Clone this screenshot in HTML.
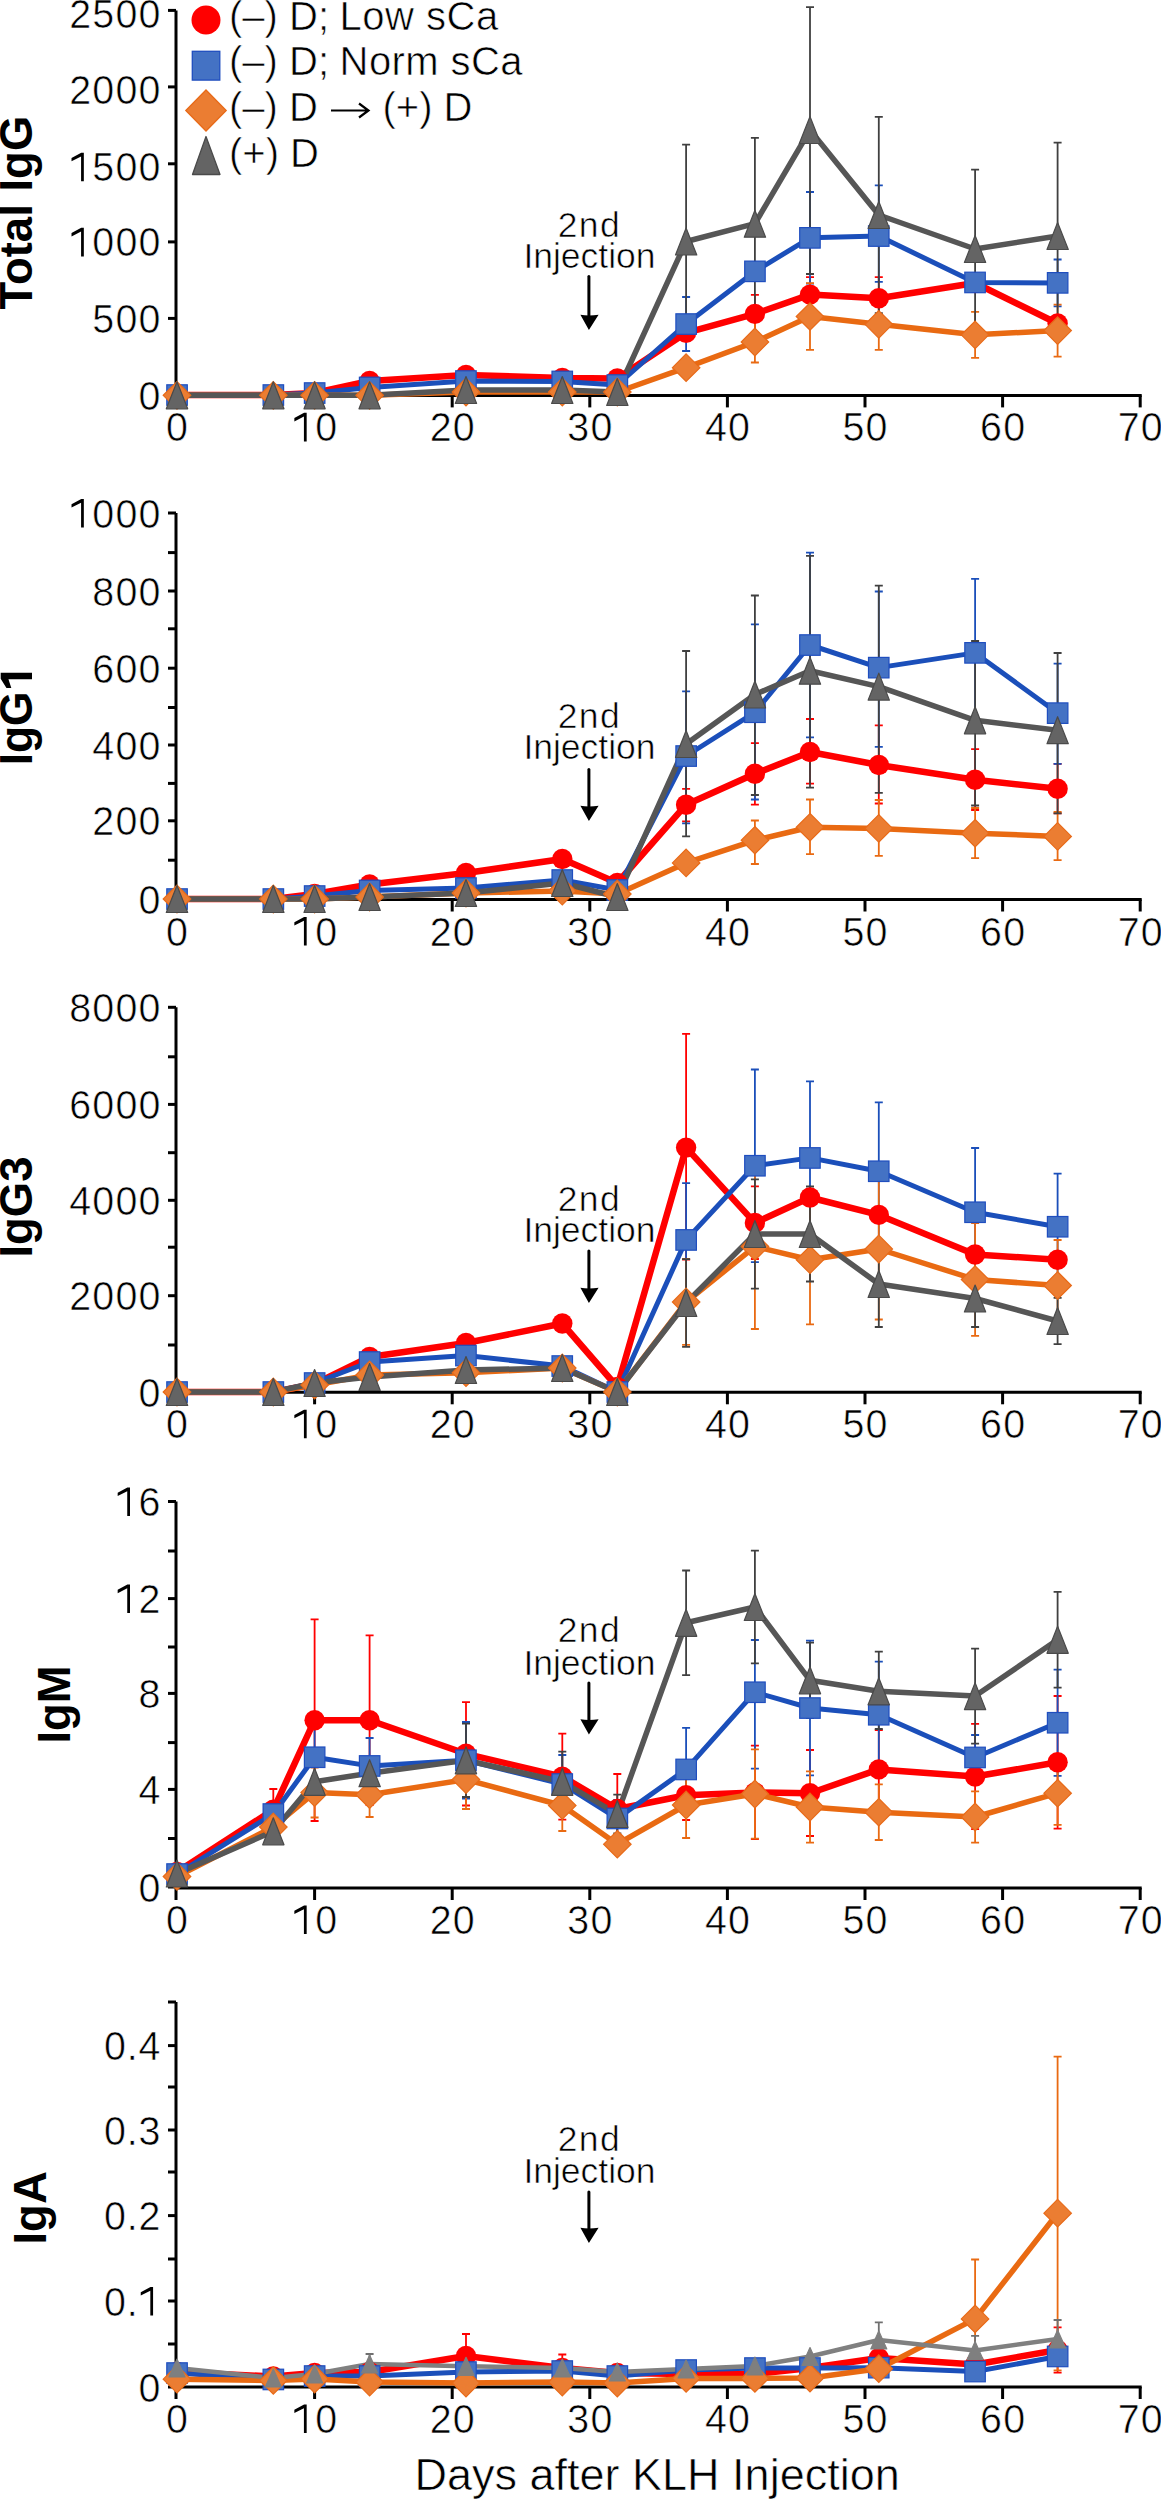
<!DOCTYPE html><html><head><meta charset="utf-8"><style>html,body{margin:0;padding:0;background:#fff;}svg{display:block;}</style></head><body>
<svg width="1161" height="2500" viewBox="0 0 1161 2500" font-family='"Liberation Sans", sans-serif'>
<rect width="1161" height="2500" fill="#fff"/>
<g stroke="#000" stroke-width="3" fill="none" stroke-linecap="butt">
<path d="M176 10.4V407.4"/>
<path d="M176 395.4H1141.7"/>
<path d="M168 395.4H176"/>
<path d="M168 318.4H176"/>
<path d="M168 241.9H176"/>
<path d="M168 163.8H176"/>
<path d="M168 86.9H176"/>
<path d="M168 10.4H176"/>
<path d="M314.6 395.4V407.4"/>
<path d="M452.2 395.4V407.4"/>
<path d="M589.8 395.4V407.4"/>
<path d="M727.4 395.4V407.4"/>
<path d="M865 395.4V407.4"/>
<path d="M1002.6 395.4V407.4"/>
<path d="M1140.2 395.4V407.4"/>
</g>
<g fill="#000">
<text transform="translate(149.46 409.9) scale(0.95 1)" font-size="41.5" text-anchor="middle" stroke="#fff" stroke-width="0.6">0</text>
<text transform="translate(103.30 332.9) scale(0.95 1)" font-size="41.5" text-anchor="middle" stroke="#fff" stroke-width="0.6">5</text>
<text transform="translate(126.38 332.9) scale(0.95 1)" font-size="41.5" text-anchor="middle" stroke="#fff" stroke-width="0.6">0</text>
<text transform="translate(149.46 332.9) scale(0.95 1)" font-size="41.5" text-anchor="middle" stroke="#fff" stroke-width="0.6">0</text>
<path d="M612 0L612 1225L140 985L140 1150L620 1409L748 1409L748 0Z" transform="translate(68.68 256.4) scale(0.02026 -0.02026)"/>
<text transform="translate(103.30 256.4) scale(0.95 1)" font-size="41.5" text-anchor="middle" stroke="#fff" stroke-width="0.6">0</text>
<text transform="translate(126.38 256.4) scale(0.95 1)" font-size="41.5" text-anchor="middle" stroke="#fff" stroke-width="0.6">0</text>
<text transform="translate(149.46 256.4) scale(0.95 1)" font-size="41.5" text-anchor="middle" stroke="#fff" stroke-width="0.6">0</text>
<path d="M612 0L612 1225L140 985L140 1150L620 1409L748 1409L748 0Z" transform="translate(68.68 181.3) scale(0.02026 -0.02026)"/>
<text transform="translate(103.30 181.3) scale(0.95 1)" font-size="41.5" text-anchor="middle" stroke="#fff" stroke-width="0.6">5</text>
<text transform="translate(126.38 181.3) scale(0.95 1)" font-size="41.5" text-anchor="middle" stroke="#fff" stroke-width="0.6">0</text>
<text transform="translate(149.46 181.3) scale(0.95 1)" font-size="41.5" text-anchor="middle" stroke="#fff" stroke-width="0.6">0</text>
<text transform="translate(80.22 104.4) scale(0.95 1)" font-size="41.5" text-anchor="middle" stroke="#fff" stroke-width="0.6">2</text>
<text transform="translate(103.30 104.4) scale(0.95 1)" font-size="41.5" text-anchor="middle" stroke="#fff" stroke-width="0.6">0</text>
<text transform="translate(126.38 104.4) scale(0.95 1)" font-size="41.5" text-anchor="middle" stroke="#fff" stroke-width="0.6">0</text>
<text transform="translate(149.46 104.4) scale(0.95 1)" font-size="41.5" text-anchor="middle" stroke="#fff" stroke-width="0.6">0</text>
<text transform="translate(80.22 27.9) scale(0.95 1)" font-size="41.5" text-anchor="middle" stroke="#fff" stroke-width="0.6">2</text>
<text transform="translate(103.30 27.9) scale(0.95 1)" font-size="41.5" text-anchor="middle" stroke="#fff" stroke-width="0.6">5</text>
<text transform="translate(126.38 27.9) scale(0.95 1)" font-size="41.5" text-anchor="middle" stroke="#fff" stroke-width="0.6">0</text>
<text transform="translate(149.46 27.9) scale(0.95 1)" font-size="41.5" text-anchor="middle" stroke="#fff" stroke-width="0.6">0</text>
<text transform="translate(177.00 441.4) scale(0.95 1)" font-size="41.5" text-anchor="middle" stroke="#fff" stroke-width="0.6">0</text>
<path d="M612 0L612 1225L140 985L140 1150L620 1409L748 1409L748 0Z" transform="translate(291.52 441.4) scale(0.02026 -0.02026)"/>
<text transform="translate(326.14 441.4) scale(0.95 1)" font-size="41.5" text-anchor="middle" stroke="#fff" stroke-width="0.6">0</text>
<text transform="translate(440.66 441.4) scale(0.95 1)" font-size="41.5" text-anchor="middle" stroke="#fff" stroke-width="0.6">2</text>
<text transform="translate(463.74 441.4) scale(0.95 1)" font-size="41.5" text-anchor="middle" stroke="#fff" stroke-width="0.6">0</text>
<text transform="translate(578.26 441.4) scale(0.95 1)" font-size="41.5" text-anchor="middle" stroke="#fff" stroke-width="0.6">3</text>
<text transform="translate(601.34 441.4) scale(0.95 1)" font-size="41.5" text-anchor="middle" stroke="#fff" stroke-width="0.6">0</text>
<text transform="translate(715.86 441.4) scale(0.95 1)" font-size="41.5" text-anchor="middle" stroke="#fff" stroke-width="0.6">4</text>
<text transform="translate(738.94 441.4) scale(0.95 1)" font-size="41.5" text-anchor="middle" stroke="#fff" stroke-width="0.6">0</text>
<text transform="translate(853.46 441.4) scale(0.95 1)" font-size="41.5" text-anchor="middle" stroke="#fff" stroke-width="0.6">5</text>
<text transform="translate(876.54 441.4) scale(0.95 1)" font-size="41.5" text-anchor="middle" stroke="#fff" stroke-width="0.6">0</text>
<text transform="translate(991.06 441.4) scale(0.95 1)" font-size="41.5" text-anchor="middle" stroke="#fff" stroke-width="0.6">6</text>
<text transform="translate(1014.14 441.4) scale(0.95 1)" font-size="41.5" text-anchor="middle" stroke="#fff" stroke-width="0.6">0</text>
<text transform="translate(1128.66 441.4) scale(0.95 1)" font-size="41.5" text-anchor="middle" stroke="#fff" stroke-width="0.6">7</text>
<text transform="translate(1151.74 441.4) scale(0.95 1)" font-size="41.5" text-anchor="middle" stroke="#fff" stroke-width="0.6">0</text>
<text transform="translate(32 212.6) rotate(-90) scale(1.0 1)" x="0" y="0" font-size="45.5" font-weight="bold" text-anchor="middle">Total IgG</text>
<text x="589.5" y="237.2" font-size="35.5" text-anchor="middle" font-weight="normal" stroke="#fff" stroke-width="0.6" letter-spacing="1.5">2nd</text>
<text x="589.5" y="267.9" font-size="35.5" text-anchor="middle" font-weight="normal" stroke="#fff" stroke-width="0.6">Injection</text>
</g>
<path d="M588.9 276.5V317" stroke="#000" stroke-width="3" stroke-linecap="round"/>
<path d="M580.4 314.8Q588.9 316 598.6 314.8L588.9 330Z" fill="#000"/>
<path d="M754.9 294.9V332.9M750.9 294.9h8M750.9 332.9h8" stroke="#FF0000" stroke-width="1.8" fill="none"/>
<path d="M810 277.1V312.1M806 277.1h8M806 312.1h8" stroke="#FF0000" stroke-width="1.8" fill="none"/>
<path d="M878.8 277.1V319.3M874.8 277.1h8M874.8 319.3h8" stroke="#FF0000" stroke-width="1.8" fill="none"/>
<path d="M686.1 297V351M682.1 297h8M682.1 351h8" stroke="#1B4FBA" stroke-width="1.8" fill="none"/>
<path d="M810 192V283.6M806 192h8M806 283.6h8" stroke="#1B4FBA" stroke-width="1.8" fill="none"/>
<path d="M878.8 185.4V281.8M874.8 185.4h8M874.8 281.8h8" stroke="#1B4FBA" stroke-width="1.8" fill="none"/>
<path d="M1057.6 259.5V306.3M1053.6 259.5h8M1053.6 306.3h8" stroke="#1B4FBA" stroke-width="1.8" fill="none"/>
<path d="M754.9 321.5V362.5M750.9 321.5h8M750.9 362.5h8" stroke="#E96A12" stroke-width="1.8" fill="none"/>
<path d="M810 283.2V349.8M806 283.2h8M806 349.8h8" stroke="#E96A12" stroke-width="1.8" fill="none"/>
<path d="M878.8 298.8V349.8M874.8 298.8h8M874.8 349.8h8" stroke="#E96A12" stroke-width="1.8" fill="none"/>
<path d="M975.1 311.8V357.8M971.1 311.8h8M971.1 357.8h8" stroke="#E96A12" stroke-width="1.8" fill="none"/>
<path d="M1057.6 304.6V356.6M1053.6 304.6h8M1053.6 356.6h8" stroke="#E96A12" stroke-width="1.8" fill="none"/>
<path d="M686.1 144.6V338.4M682.1 144.6h8M682.1 338.4h8" stroke="#404040" stroke-width="1.8" fill="none"/>
<path d="M754.9 137.9V309.5M750.9 137.9h8M750.9 309.5h8" stroke="#404040" stroke-width="1.8" fill="none"/>
<path d="M810 7.1V274M806 7.1h8M806 274h8" stroke="#404040" stroke-width="1.8" fill="none"/>
<path d="M878.8 116.9V313.1M874.8 116.9h8M874.8 313.1h8" stroke="#404040" stroke-width="1.8" fill="none"/>
<path d="M975.1 169.6V328.4M971.1 169.6h8M971.1 328.4h8" stroke="#404040" stroke-width="1.8" fill="none"/>
<path d="M1057.6 142.6V329.4M1053.6 142.6h8M1053.6 329.4h8" stroke="#404040" stroke-width="1.8" fill="none"/>
<polyline points="177,395 273.3,395 314.6,393 369.6,381 466,375 562.3,378 617.3,378.4 686.1,332.8 754.9,313.9 810,294.6 878.8,298.2 975.1,283 1057.6,323.5" fill="none" stroke="#FF0000" stroke-width="6.5" stroke-linejoin="round"/>
<polyline points="177,395 273.3,395 314.6,393 369.6,387.5 466,381 562.3,381.5 617.3,385 686.1,324 754.9,271.4 810,237.8 878.8,236.1 975.1,282.5 1057.6,282.9" fill="none" stroke="#1B4FBA" stroke-width="5" stroke-linejoin="round"/>
<polyline points="177,395.3 273.3,395.3 314.6,395.3 369.6,395.3 466,392 562.3,392 617.3,392 686.1,367.7 754.9,342 810,316.5 878.8,324.3 975.1,334.8 1057.6,330.6" fill="none" stroke="#E96A12" stroke-width="5.5" stroke-linejoin="round"/>
<polyline points="177,395.3 273.3,395.3 314.6,395.3 369.6,395.3 466,390 562.3,390 617.3,392 686.1,241.5 754.9,223.7 810,130 878.8,215 975.1,249 1057.6,236" fill="none" stroke="#565656" stroke-width="5.5" stroke-linejoin="round"/>
<circle cx="177" cy="395" r="10.2" fill="#FF0000"/>
<circle cx="273.3" cy="395" r="10.2" fill="#FF0000"/>
<circle cx="314.6" cy="393" r="10.2" fill="#FF0000"/>
<circle cx="369.6" cy="381" r="10.2" fill="#FF0000"/>
<circle cx="466" cy="375" r="10.2" fill="#FF0000"/>
<circle cx="562.3" cy="378" r="10.2" fill="#FF0000"/>
<circle cx="617.3" cy="378.4" r="10.2" fill="#FF0000"/>
<circle cx="686.1" cy="332.8" r="10.2" fill="#FF0000"/>
<circle cx="754.9" cy="313.9" r="10.2" fill="#FF0000"/>
<circle cx="810" cy="294.6" r="10.2" fill="#FF0000"/>
<circle cx="878.8" cy="298.2" r="10.2" fill="#FF0000"/>
<circle cx="975.1" cy="283" r="10.2" fill="#FF0000"/>
<circle cx="1057.6" cy="323.5" r="10.2" fill="#FF0000"/>
<rect x="166.8" y="384.8" width="20.5" height="20.5" fill="#4472C4" stroke="#1F4EBF" stroke-width="1.2"/>
<rect x="263.1" y="384.8" width="20.5" height="20.5" fill="#4472C4" stroke="#1F4EBF" stroke-width="1.2"/>
<rect x="304.4" y="382.8" width="20.5" height="20.5" fill="#4472C4" stroke="#1F4EBF" stroke-width="1.2"/>
<rect x="359.4" y="377.2" width="20.5" height="20.5" fill="#4472C4" stroke="#1F4EBF" stroke-width="1.2"/>
<rect x="455.7" y="370.8" width="20.5" height="20.5" fill="#4472C4" stroke="#1F4EBF" stroke-width="1.2"/>
<rect x="552" y="371.2" width="20.5" height="20.5" fill="#4472C4" stroke="#1F4EBF" stroke-width="1.2"/>
<rect x="607.1" y="374.8" width="20.5" height="20.5" fill="#4472C4" stroke="#1F4EBF" stroke-width="1.2"/>
<rect x="675.9" y="313.8" width="20.5" height="20.5" fill="#4472C4" stroke="#1F4EBF" stroke-width="1.2"/>
<rect x="744.7" y="261.1" width="20.5" height="20.5" fill="#4472C4" stroke="#1F4EBF" stroke-width="1.2"/>
<rect x="799.7" y="227.6" width="20.5" height="20.5" fill="#4472C4" stroke="#1F4EBF" stroke-width="1.2"/>
<rect x="868.5" y="225.8" width="20.5" height="20.5" fill="#4472C4" stroke="#1F4EBF" stroke-width="1.2"/>
<rect x="964.8" y="272.2" width="20.5" height="20.5" fill="#4472C4" stroke="#1F4EBF" stroke-width="1.2"/>
<rect x="1047.4" y="272.6" width="20.5" height="20.5" fill="#4472C4" stroke="#1F4EBF" stroke-width="1.2"/>
<path d="M177 381.6L190.8 395.3L177 409.1L163.2 395.3Z" fill="#EB7D32" stroke="#E86A18" stroke-width="1.2"/>
<path d="M273.3 381.6L287.1 395.3L273.3 409.1L259.6 395.3Z" fill="#EB7D32" stroke="#E86A18" stroke-width="1.2"/>
<path d="M314.6 381.6L328.4 395.3L314.6 409.1L300.9 395.3Z" fill="#EB7D32" stroke="#E86A18" stroke-width="1.2"/>
<path d="M369.6 381.6L383.4 395.3L369.6 409.1L355.9 395.3Z" fill="#EB7D32" stroke="#E86A18" stroke-width="1.2"/>
<path d="M466 378.2L479.7 392L466 405.8L452.2 392Z" fill="#EB7D32" stroke="#E86A18" stroke-width="1.2"/>
<path d="M562.3 378.2L576 392L562.3 405.8L548.5 392Z" fill="#EB7D32" stroke="#E86A18" stroke-width="1.2"/>
<path d="M617.3 378.2L631.1 392L617.3 405.8L603.6 392Z" fill="#EB7D32" stroke="#E86A18" stroke-width="1.2"/>
<path d="M686.1 353.9L699.9 367.7L686.1 381.4L672.4 367.7Z" fill="#EB7D32" stroke="#E86A18" stroke-width="1.2"/>
<path d="M754.9 328.2L768.7 342L754.9 355.8L741.2 342Z" fill="#EB7D32" stroke="#E86A18" stroke-width="1.2"/>
<path d="M810 302.8L823.7 316.5L810 330.2L796.2 316.5Z" fill="#EB7D32" stroke="#E86A18" stroke-width="1.2"/>
<path d="M878.8 310.6L892.5 324.3L878.8 338.1L865 324.3Z" fill="#EB7D32" stroke="#E86A18" stroke-width="1.2"/>
<path d="M975.1 321.1L988.8 334.8L975.1 348.6L961.3 334.8Z" fill="#EB7D32" stroke="#E86A18" stroke-width="1.2"/>
<path d="M1057.6 316.9L1071.4 330.6L1057.6 344.4L1043.9 330.6Z" fill="#EB7D32" stroke="#E86A18" stroke-width="1.2"/>
<path d="M177 381.8L187.7 408.8L166.3 408.8Z" fill="#646464" stroke="#4A4A4A" stroke-width="1.2" stroke-linejoin="round"/>
<path d="M273.3 381.8L284 408.8L262.7 408.8Z" fill="#646464" stroke="#4A4A4A" stroke-width="1.2" stroke-linejoin="round"/>
<path d="M314.6 381.8L325.2 408.8L304 408.8Z" fill="#646464" stroke="#4A4A4A" stroke-width="1.2" stroke-linejoin="round"/>
<path d="M369.6 381.8L380.3 408.8L359 408.8Z" fill="#646464" stroke="#4A4A4A" stroke-width="1.2" stroke-linejoin="round"/>
<path d="M466 376.5L476.6 403.5L455.3 403.5Z" fill="#646464" stroke="#4A4A4A" stroke-width="1.2" stroke-linejoin="round"/>
<path d="M562.3 376.5L572.9 403.5L551.6 403.5Z" fill="#646464" stroke="#4A4A4A" stroke-width="1.2" stroke-linejoin="round"/>
<path d="M617.3 378.5L628 405.5L606.7 405.5Z" fill="#646464" stroke="#4A4A4A" stroke-width="1.2" stroke-linejoin="round"/>
<path d="M686.1 228L696.8 255L675.5 255Z" fill="#646464" stroke="#4A4A4A" stroke-width="1.2" stroke-linejoin="round"/>
<path d="M754.9 210.2L765.6 237.2L744.3 237.2Z" fill="#646464" stroke="#4A4A4A" stroke-width="1.2" stroke-linejoin="round"/>
<path d="M810 116.5L820.6 143.5L799.3 143.5Z" fill="#646464" stroke="#4A4A4A" stroke-width="1.2" stroke-linejoin="round"/>
<path d="M878.8 201.5L889.4 228.5L868.1 228.5Z" fill="#646464" stroke="#4A4A4A" stroke-width="1.2" stroke-linejoin="round"/>
<path d="M975.1 235.5L985.7 262.5L964.4 262.5Z" fill="#646464" stroke="#4A4A4A" stroke-width="1.2" stroke-linejoin="round"/>
<path d="M1057.6 222.5L1068.3 249.5L1047 249.5Z" fill="#646464" stroke="#4A4A4A" stroke-width="1.2" stroke-linejoin="round"/>
<g stroke="#000" stroke-width="3" fill="none" stroke-linecap="butt">
<path d="M176 513V911.5"/>
<path d="M176 899.5H1141.7"/>
<path d="M168 899.5H176"/>
<path d="M168 820.8H176"/>
<path d="M168 745H176"/>
<path d="M168 668.2H176"/>
<path d="M168 591H176"/>
<path d="M168 513H176"/>
<path d="M168 860.2H176"/>
<path d="M168 783.4H176"/>
<path d="M168 707.5H176"/>
<path d="M168 628.8H176"/>
<path d="M168 552.6H176"/>
<path d="M314.6 899.5V911.5"/>
<path d="M452.2 899.5V911.5"/>
<path d="M589.8 899.5V911.5"/>
<path d="M727.4 899.5V911.5"/>
<path d="M865 899.5V911.5"/>
<path d="M1002.6 899.5V911.5"/>
<path d="M1140.2 899.5V911.5"/>
</g>
<g fill="#000">
<text transform="translate(149.46 914) scale(0.95 1)" font-size="41.5" text-anchor="middle" stroke="#fff" stroke-width="0.6">0</text>
<text transform="translate(103.30 835.3) scale(0.95 1)" font-size="41.5" text-anchor="middle" stroke="#fff" stroke-width="0.6">2</text>
<text transform="translate(126.38 835.3) scale(0.95 1)" font-size="41.5" text-anchor="middle" stroke="#fff" stroke-width="0.6">0</text>
<text transform="translate(149.46 835.3) scale(0.95 1)" font-size="41.5" text-anchor="middle" stroke="#fff" stroke-width="0.6">0</text>
<text transform="translate(103.30 759.5) scale(0.95 1)" font-size="41.5" text-anchor="middle" stroke="#fff" stroke-width="0.6">4</text>
<text transform="translate(126.38 759.5) scale(0.95 1)" font-size="41.5" text-anchor="middle" stroke="#fff" stroke-width="0.6">0</text>
<text transform="translate(149.46 759.5) scale(0.95 1)" font-size="41.5" text-anchor="middle" stroke="#fff" stroke-width="0.6">0</text>
<text transform="translate(103.30 682.7) scale(0.95 1)" font-size="41.5" text-anchor="middle" stroke="#fff" stroke-width="0.6">6</text>
<text transform="translate(126.38 682.7) scale(0.95 1)" font-size="41.5" text-anchor="middle" stroke="#fff" stroke-width="0.6">0</text>
<text transform="translate(149.46 682.7) scale(0.95 1)" font-size="41.5" text-anchor="middle" stroke="#fff" stroke-width="0.6">0</text>
<text transform="translate(103.30 605.5) scale(0.95 1)" font-size="41.5" text-anchor="middle" stroke="#fff" stroke-width="0.6">8</text>
<text transform="translate(126.38 605.5) scale(0.95 1)" font-size="41.5" text-anchor="middle" stroke="#fff" stroke-width="0.6">0</text>
<text transform="translate(149.46 605.5) scale(0.95 1)" font-size="41.5" text-anchor="middle" stroke="#fff" stroke-width="0.6">0</text>
<path d="M612 0L612 1225L140 985L140 1150L620 1409L748 1409L748 0Z" transform="translate(68.68 527.5) scale(0.02026 -0.02026)"/>
<text transform="translate(103.30 527.5) scale(0.95 1)" font-size="41.5" text-anchor="middle" stroke="#fff" stroke-width="0.6">0</text>
<text transform="translate(126.38 527.5) scale(0.95 1)" font-size="41.5" text-anchor="middle" stroke="#fff" stroke-width="0.6">0</text>
<text transform="translate(149.46 527.5) scale(0.95 1)" font-size="41.5" text-anchor="middle" stroke="#fff" stroke-width="0.6">0</text>
<text transform="translate(177.00 945.5) scale(0.95 1)" font-size="41.5" text-anchor="middle" stroke="#fff" stroke-width="0.6">0</text>
<path d="M612 0L612 1225L140 985L140 1150L620 1409L748 1409L748 0Z" transform="translate(291.52 945.5) scale(0.02026 -0.02026)"/>
<text transform="translate(326.14 945.5) scale(0.95 1)" font-size="41.5" text-anchor="middle" stroke="#fff" stroke-width="0.6">0</text>
<text transform="translate(440.66 945.5) scale(0.95 1)" font-size="41.5" text-anchor="middle" stroke="#fff" stroke-width="0.6">2</text>
<text transform="translate(463.74 945.5) scale(0.95 1)" font-size="41.5" text-anchor="middle" stroke="#fff" stroke-width="0.6">0</text>
<text transform="translate(578.26 945.5) scale(0.95 1)" font-size="41.5" text-anchor="middle" stroke="#fff" stroke-width="0.6">3</text>
<text transform="translate(601.34 945.5) scale(0.95 1)" font-size="41.5" text-anchor="middle" stroke="#fff" stroke-width="0.6">0</text>
<text transform="translate(715.86 945.5) scale(0.95 1)" font-size="41.5" text-anchor="middle" stroke="#fff" stroke-width="0.6">4</text>
<text transform="translate(738.94 945.5) scale(0.95 1)" font-size="41.5" text-anchor="middle" stroke="#fff" stroke-width="0.6">0</text>
<text transform="translate(853.46 945.5) scale(0.95 1)" font-size="41.5" text-anchor="middle" stroke="#fff" stroke-width="0.6">5</text>
<text transform="translate(876.54 945.5) scale(0.95 1)" font-size="41.5" text-anchor="middle" stroke="#fff" stroke-width="0.6">0</text>
<text transform="translate(991.06 945.5) scale(0.95 1)" font-size="41.5" text-anchor="middle" stroke="#fff" stroke-width="0.6">6</text>
<text transform="translate(1014.14 945.5) scale(0.95 1)" font-size="41.5" text-anchor="middle" stroke="#fff" stroke-width="0.6">0</text>
<text transform="translate(1128.66 945.5) scale(0.95 1)" font-size="41.5" text-anchor="middle" stroke="#fff" stroke-width="0.6">7</text>
<text transform="translate(1151.74 945.5) scale(0.95 1)" font-size="41.5" text-anchor="middle" stroke="#fff" stroke-width="0.6">0</text>
<g transform="translate(32 716) rotate(-90) scale(0.975 1)">
<text x="-50.6" y="0" font-size="45.5" font-weight="bold">IgG </text>
<path d="M560 0L560 1060L150 930L150 1150L580 1409L860 1409L860 0Z" transform="translate(25.26 0) scale(0.02222 -0.02222)"/>
</g>
<text x="589.5" y="727.9" font-size="35.5" text-anchor="middle" font-weight="normal" stroke="#fff" stroke-width="0.6" letter-spacing="1.5">2nd</text>
<text x="589.5" y="758.9" font-size="35.5" text-anchor="middle" font-weight="normal" stroke="#fff" stroke-width="0.6">Injection</text>
</g>
<path d="M588.9 769.5V808" stroke="#000" stroke-width="3" stroke-linecap="round"/>
<path d="M580.4 805.8Q588.9 807 598.6 805.8L588.9 821Z" fill="#000"/>
<path d="M686.1 788.8V821.3M682.1 788.8h8M682.1 821.3h8" stroke="#FF0000" stroke-width="1.8" fill="none"/>
<path d="M754.9 743.2V804.7M750.9 743.2h8M750.9 804.7h8" stroke="#FF0000" stroke-width="1.8" fill="none"/>
<path d="M810 719V783.7M806 719h8M806 783.7h8" stroke="#FF0000" stroke-width="1.8" fill="none"/>
<path d="M878.8 725.4V803.5M874.8 725.4h8M874.8 803.5h8" stroke="#FF0000" stroke-width="1.8" fill="none"/>
<path d="M975.1 749.2V810M971.1 749.2h8M971.1 810h8" stroke="#FF0000" stroke-width="1.8" fill="none"/>
<path d="M1057.6 763.8V813.4M1053.6 763.8h8M1053.6 813.4h8" stroke="#FF0000" stroke-width="1.8" fill="none"/>
<path d="M686.1 691.3V823.3M682.1 691.3h8M682.1 823.3h8" stroke="#1B4FBA" stroke-width="1.8" fill="none"/>
<path d="M754.9 624.4V799.5M750.9 624.4h8M750.9 799.5h8" stroke="#1B4FBA" stroke-width="1.8" fill="none"/>
<path d="M810 552.7V737.3M806 552.7h8M806 737.3h8" stroke="#1B4FBA" stroke-width="1.8" fill="none"/>
<path d="M878.8 591.5V746.8M874.8 591.5h8M874.8 746.8h8" stroke="#1B4FBA" stroke-width="1.8" fill="none"/>
<path d="M975.1 578.8V727M971.1 578.8h8M971.1 727h8" stroke="#1B4FBA" stroke-width="1.8" fill="none"/>
<path d="M1057.6 663.6V763.8M1053.6 663.6h8M1053.6 763.8h8" stroke="#1B4FBA" stroke-width="1.8" fill="none"/>
<path d="M754.9 820.5V864M750.9 820.5h8M750.9 864h8" stroke="#E96A12" stroke-width="1.8" fill="none"/>
<path d="M810 799.5V854.2M806 799.5h8M806 854.2h8" stroke="#E96A12" stroke-width="1.8" fill="none"/>
<path d="M878.8 800V855.8M874.8 800h8M874.8 855.8h8" stroke="#E96A12" stroke-width="1.8" fill="none"/>
<path d="M975.1 808V858.1M971.1 808h8M971.1 858.1h8" stroke="#E96A12" stroke-width="1.8" fill="none"/>
<path d="M1057.6 812V860.1M1053.6 812h8M1053.6 860.1h8" stroke="#E96A12" stroke-width="1.8" fill="none"/>
<path d="M686.1 651V836.4M682.1 651h8M682.1 836.4h8" stroke="#404040" stroke-width="1.8" fill="none"/>
<path d="M754.9 595.5V795M750.9 595.5h8M750.9 795h8" stroke="#404040" stroke-width="1.8" fill="none"/>
<path d="M810 555.8V787.6M806 555.8h8M806 787.6h8" stroke="#404040" stroke-width="1.8" fill="none"/>
<path d="M878.8 585.6V792.8M874.8 585.6h8M874.8 792.8h8" stroke="#404040" stroke-width="1.8" fill="none"/>
<path d="M975.1 641V805.5M971.1 641h8M971.1 805.5h8" stroke="#404040" stroke-width="1.8" fill="none"/>
<path d="M1057.6 653V813.4M1053.6 653h8M1053.6 813.4h8" stroke="#404040" stroke-width="1.8" fill="none"/>
<polyline points="177,899 273.3,899 314.6,894 369.6,884.5 466,873 562.3,859 617.3,883 686.1,804.7 754.9,773.8 810,752 878.8,765 975.1,779.7 1057.6,788.8" fill="none" stroke="#FF0000" stroke-width="6.5" stroke-linejoin="round"/>
<polyline points="177,899 273.3,899 314.6,896 369.6,890.5 466,888 562.3,880 617.3,890 686.1,756 754.9,712.3 810,645 878.8,667.6 975.1,652.9 1057.6,713.1" fill="none" stroke="#1B4FBA" stroke-width="5" stroke-linejoin="round"/>
<polyline points="177,899 273.3,899 314.6,899 369.6,897 466,893 562.3,891 617.3,894 686.1,862.9 754.9,840.3 810,827.2 878.8,828.4 975.1,833.2 1057.6,836.4" fill="none" stroke="#E96A12" stroke-width="5.5" stroke-linejoin="round"/>
<polyline points="177,899 273.3,899 314.6,899 369.6,897 466,893 562.3,883 617.3,897 686.1,744 754.9,694.5 810,670.7 878.8,686.6 975.1,720.3 1057.6,730.2" fill="none" stroke="#565656" stroke-width="5.5" stroke-linejoin="round"/>
<circle cx="177" cy="899" r="10.2" fill="#FF0000"/>
<circle cx="273.3" cy="899" r="10.2" fill="#FF0000"/>
<circle cx="314.6" cy="894" r="10.2" fill="#FF0000"/>
<circle cx="369.6" cy="884.5" r="10.2" fill="#FF0000"/>
<circle cx="466" cy="873" r="10.2" fill="#FF0000"/>
<circle cx="562.3" cy="859" r="10.2" fill="#FF0000"/>
<circle cx="617.3" cy="883" r="10.2" fill="#FF0000"/>
<circle cx="686.1" cy="804.7" r="10.2" fill="#FF0000"/>
<circle cx="754.9" cy="773.8" r="10.2" fill="#FF0000"/>
<circle cx="810" cy="752" r="10.2" fill="#FF0000"/>
<circle cx="878.8" cy="765" r="10.2" fill="#FF0000"/>
<circle cx="975.1" cy="779.7" r="10.2" fill="#FF0000"/>
<circle cx="1057.6" cy="788.8" r="10.2" fill="#FF0000"/>
<rect x="166.8" y="888.8" width="20.5" height="20.5" fill="#4472C4" stroke="#1F4EBF" stroke-width="1.2"/>
<rect x="263.1" y="888.8" width="20.5" height="20.5" fill="#4472C4" stroke="#1F4EBF" stroke-width="1.2"/>
<rect x="304.4" y="885.8" width="20.5" height="20.5" fill="#4472C4" stroke="#1F4EBF" stroke-width="1.2"/>
<rect x="359.4" y="880.2" width="20.5" height="20.5" fill="#4472C4" stroke="#1F4EBF" stroke-width="1.2"/>
<rect x="455.7" y="877.8" width="20.5" height="20.5" fill="#4472C4" stroke="#1F4EBF" stroke-width="1.2"/>
<rect x="552" y="869.8" width="20.5" height="20.5" fill="#4472C4" stroke="#1F4EBF" stroke-width="1.2"/>
<rect x="607.1" y="879.8" width="20.5" height="20.5" fill="#4472C4" stroke="#1F4EBF" stroke-width="1.2"/>
<rect x="675.9" y="745.8" width="20.5" height="20.5" fill="#4472C4" stroke="#1F4EBF" stroke-width="1.2"/>
<rect x="744.7" y="702" width="20.5" height="20.5" fill="#4472C4" stroke="#1F4EBF" stroke-width="1.2"/>
<rect x="799.7" y="634.8" width="20.5" height="20.5" fill="#4472C4" stroke="#1F4EBF" stroke-width="1.2"/>
<rect x="868.5" y="657.4" width="20.5" height="20.5" fill="#4472C4" stroke="#1F4EBF" stroke-width="1.2"/>
<rect x="964.8" y="642.6" width="20.5" height="20.5" fill="#4472C4" stroke="#1F4EBF" stroke-width="1.2"/>
<rect x="1047.4" y="702.9" width="20.5" height="20.5" fill="#4472C4" stroke="#1F4EBF" stroke-width="1.2"/>
<path d="M177 885.2L190.8 899L177 912.8L163.2 899Z" fill="#EB7D32" stroke="#E86A18" stroke-width="1.2"/>
<path d="M273.3 885.2L287.1 899L273.3 912.8L259.6 899Z" fill="#EB7D32" stroke="#E86A18" stroke-width="1.2"/>
<path d="M314.6 885.2L328.4 899L314.6 912.8L300.9 899Z" fill="#EB7D32" stroke="#E86A18" stroke-width="1.2"/>
<path d="M369.6 883.2L383.4 897L369.6 910.8L355.9 897Z" fill="#EB7D32" stroke="#E86A18" stroke-width="1.2"/>
<path d="M466 879.2L479.7 893L466 906.8L452.2 893Z" fill="#EB7D32" stroke="#E86A18" stroke-width="1.2"/>
<path d="M562.3 877.2L576 891L562.3 904.8L548.5 891Z" fill="#EB7D32" stroke="#E86A18" stroke-width="1.2"/>
<path d="M617.3 880.2L631.1 894L617.3 907.8L603.6 894Z" fill="#EB7D32" stroke="#E86A18" stroke-width="1.2"/>
<path d="M686.1 849.1L699.9 862.9L686.1 876.6L672.4 862.9Z" fill="#EB7D32" stroke="#E86A18" stroke-width="1.2"/>
<path d="M754.9 826.5L768.7 840.3L754.9 854L741.2 840.3Z" fill="#EB7D32" stroke="#E86A18" stroke-width="1.2"/>
<path d="M810 813.5L823.7 827.2L810 841L796.2 827.2Z" fill="#EB7D32" stroke="#E86A18" stroke-width="1.2"/>
<path d="M878.8 814.6L892.5 828.4L878.8 842.1L865 828.4Z" fill="#EB7D32" stroke="#E86A18" stroke-width="1.2"/>
<path d="M975.1 819.5L988.8 833.2L975.1 847L961.3 833.2Z" fill="#EB7D32" stroke="#E86A18" stroke-width="1.2"/>
<path d="M1057.6 822.6L1071.4 836.4L1057.6 850.1L1043.9 836.4Z" fill="#EB7D32" stroke="#E86A18" stroke-width="1.2"/>
<path d="M177 885.5L187.7 912.5L166.3 912.5Z" fill="#646464" stroke="#4A4A4A" stroke-width="1.2" stroke-linejoin="round"/>
<path d="M273.3 885.5L284 912.5L262.7 912.5Z" fill="#646464" stroke="#4A4A4A" stroke-width="1.2" stroke-linejoin="round"/>
<path d="M314.6 885.5L325.2 912.5L304 912.5Z" fill="#646464" stroke="#4A4A4A" stroke-width="1.2" stroke-linejoin="round"/>
<path d="M369.6 883.5L380.3 910.5L359 910.5Z" fill="#646464" stroke="#4A4A4A" stroke-width="1.2" stroke-linejoin="round"/>
<path d="M466 879.5L476.6 906.5L455.3 906.5Z" fill="#646464" stroke="#4A4A4A" stroke-width="1.2" stroke-linejoin="round"/>
<path d="M562.3 869.5L572.9 896.5L551.6 896.5Z" fill="#646464" stroke="#4A4A4A" stroke-width="1.2" stroke-linejoin="round"/>
<path d="M617.3 883.5L628 910.5L606.7 910.5Z" fill="#646464" stroke="#4A4A4A" stroke-width="1.2" stroke-linejoin="round"/>
<path d="M686.1 730.5L696.8 757.5L675.5 757.5Z" fill="#646464" stroke="#4A4A4A" stroke-width="1.2" stroke-linejoin="round"/>
<path d="M754.9 681L765.6 708L744.3 708Z" fill="#646464" stroke="#4A4A4A" stroke-width="1.2" stroke-linejoin="round"/>
<path d="M810 657.2L820.6 684.2L799.3 684.2Z" fill="#646464" stroke="#4A4A4A" stroke-width="1.2" stroke-linejoin="round"/>
<path d="M878.8 673.1L889.4 700.1L868.1 700.1Z" fill="#646464" stroke="#4A4A4A" stroke-width="1.2" stroke-linejoin="round"/>
<path d="M975.1 706.8L985.7 733.8L964.4 733.8Z" fill="#646464" stroke="#4A4A4A" stroke-width="1.2" stroke-linejoin="round"/>
<path d="M1057.6 716.7L1068.3 743.7L1047 743.7Z" fill="#646464" stroke="#4A4A4A" stroke-width="1.2" stroke-linejoin="round"/>
<g stroke="#000" stroke-width="3" fill="none" stroke-linecap="butt">
<path d="M176 1007.3V1404.3"/>
<path d="M176 1392.3H1141.7"/>
<path d="M168 1392.3H176"/>
<path d="M168 1295.7H176"/>
<path d="M168 1200.3H176"/>
<path d="M168 1104.4H176"/>
<path d="M168 1007.3H176"/>
<path d="M168 1345H176"/>
<path d="M168 1247.2H176"/>
<path d="M168 1152.7H176"/>
<path d="M168 1056.8H176"/>
<path d="M314.6 1392.3V1404.3"/>
<path d="M452.2 1392.3V1404.3"/>
<path d="M589.8 1392.3V1404.3"/>
<path d="M727.4 1392.3V1404.3"/>
<path d="M865 1392.3V1404.3"/>
<path d="M1002.6 1392.3V1404.3"/>
<path d="M1140.2 1392.3V1404.3"/>
</g>
<g fill="#000">
<text transform="translate(149.46 1406.8) scale(0.95 1)" font-size="41.5" text-anchor="middle" stroke="#fff" stroke-width="0.6">0</text>
<text transform="translate(80.22 1310.2) scale(0.95 1)" font-size="41.5" text-anchor="middle" stroke="#fff" stroke-width="0.6">2</text>
<text transform="translate(103.30 1310.2) scale(0.95 1)" font-size="41.5" text-anchor="middle" stroke="#fff" stroke-width="0.6">0</text>
<text transform="translate(126.38 1310.2) scale(0.95 1)" font-size="41.5" text-anchor="middle" stroke="#fff" stroke-width="0.6">0</text>
<text transform="translate(149.46 1310.2) scale(0.95 1)" font-size="41.5" text-anchor="middle" stroke="#fff" stroke-width="0.6">0</text>
<text transform="translate(80.22 1214.8) scale(0.95 1)" font-size="41.5" text-anchor="middle" stroke="#fff" stroke-width="0.6">4</text>
<text transform="translate(103.30 1214.8) scale(0.95 1)" font-size="41.5" text-anchor="middle" stroke="#fff" stroke-width="0.6">0</text>
<text transform="translate(126.38 1214.8) scale(0.95 1)" font-size="41.5" text-anchor="middle" stroke="#fff" stroke-width="0.6">0</text>
<text transform="translate(149.46 1214.8) scale(0.95 1)" font-size="41.5" text-anchor="middle" stroke="#fff" stroke-width="0.6">0</text>
<text transform="translate(80.22 1118.9) scale(0.95 1)" font-size="41.5" text-anchor="middle" stroke="#fff" stroke-width="0.6">6</text>
<text transform="translate(103.30 1118.9) scale(0.95 1)" font-size="41.5" text-anchor="middle" stroke="#fff" stroke-width="0.6">0</text>
<text transform="translate(126.38 1118.9) scale(0.95 1)" font-size="41.5" text-anchor="middle" stroke="#fff" stroke-width="0.6">0</text>
<text transform="translate(149.46 1118.9) scale(0.95 1)" font-size="41.5" text-anchor="middle" stroke="#fff" stroke-width="0.6">0</text>
<text transform="translate(80.22 1021.8) scale(0.95 1)" font-size="41.5" text-anchor="middle" stroke="#fff" stroke-width="0.6">8</text>
<text transform="translate(103.30 1021.8) scale(0.95 1)" font-size="41.5" text-anchor="middle" stroke="#fff" stroke-width="0.6">0</text>
<text transform="translate(126.38 1021.8) scale(0.95 1)" font-size="41.5" text-anchor="middle" stroke="#fff" stroke-width="0.6">0</text>
<text transform="translate(149.46 1021.8) scale(0.95 1)" font-size="41.5" text-anchor="middle" stroke="#fff" stroke-width="0.6">0</text>
<text transform="translate(177.00 1438.3) scale(0.95 1)" font-size="41.5" text-anchor="middle" stroke="#fff" stroke-width="0.6">0</text>
<path d="M612 0L612 1225L140 985L140 1150L620 1409L748 1409L748 0Z" transform="translate(291.52 1438.3) scale(0.02026 -0.02026)"/>
<text transform="translate(326.14 1438.3) scale(0.95 1)" font-size="41.5" text-anchor="middle" stroke="#fff" stroke-width="0.6">0</text>
<text transform="translate(440.66 1438.3) scale(0.95 1)" font-size="41.5" text-anchor="middle" stroke="#fff" stroke-width="0.6">2</text>
<text transform="translate(463.74 1438.3) scale(0.95 1)" font-size="41.5" text-anchor="middle" stroke="#fff" stroke-width="0.6">0</text>
<text transform="translate(578.26 1438.3) scale(0.95 1)" font-size="41.5" text-anchor="middle" stroke="#fff" stroke-width="0.6">3</text>
<text transform="translate(601.34 1438.3) scale(0.95 1)" font-size="41.5" text-anchor="middle" stroke="#fff" stroke-width="0.6">0</text>
<text transform="translate(715.86 1438.3) scale(0.95 1)" font-size="41.5" text-anchor="middle" stroke="#fff" stroke-width="0.6">4</text>
<text transform="translate(738.94 1438.3) scale(0.95 1)" font-size="41.5" text-anchor="middle" stroke="#fff" stroke-width="0.6">0</text>
<text transform="translate(853.46 1438.3) scale(0.95 1)" font-size="41.5" text-anchor="middle" stroke="#fff" stroke-width="0.6">5</text>
<text transform="translate(876.54 1438.3) scale(0.95 1)" font-size="41.5" text-anchor="middle" stroke="#fff" stroke-width="0.6">0</text>
<text transform="translate(991.06 1438.3) scale(0.95 1)" font-size="41.5" text-anchor="middle" stroke="#fff" stroke-width="0.6">6</text>
<text transform="translate(1014.14 1438.3) scale(0.95 1)" font-size="41.5" text-anchor="middle" stroke="#fff" stroke-width="0.6">0</text>
<text transform="translate(1128.66 1438.3) scale(0.95 1)" font-size="41.5" text-anchor="middle" stroke="#fff" stroke-width="0.6">7</text>
<text transform="translate(1151.74 1438.3) scale(0.95 1)" font-size="41.5" text-anchor="middle" stroke="#fff" stroke-width="0.6">0</text>
<text transform="translate(32 1207) rotate(-90) scale(1.0 1)" x="0" y="0" font-size="45.5" font-weight="bold" text-anchor="middle">IgG3</text>
<text x="589.5" y="1210.7" font-size="35.5" text-anchor="middle" font-weight="normal" stroke="#fff" stroke-width="0.6" letter-spacing="1.5">2nd</text>
<text x="589.5" y="1241.7" font-size="35.5" text-anchor="middle" font-weight="normal" stroke="#fff" stroke-width="0.6">Injection</text>
</g>
<path d="M588.9 1251V1290" stroke="#000" stroke-width="3" stroke-linecap="round"/>
<path d="M580.4 1287.8Q588.9 1289 598.6 1287.8L588.9 1303Z" fill="#000"/>
<path d="M686.1 1033.9V1259.7M682.1 1033.9h8M682.1 1259.7h8" stroke="#FF0000" stroke-width="1.8" fill="none"/>
<path d="M754.9 1186.4V1259M750.9 1186.4h8M750.9 1259h8" stroke="#FF0000" stroke-width="1.8" fill="none"/>
<path d="M686.1 1183.2V1296.6M682.1 1183.2h8M682.1 1296.6h8" stroke="#1B4FBA" stroke-width="1.8" fill="none"/>
<path d="M754.9 1069.5V1262.1M750.9 1069.5h8M750.9 1262.1h8" stroke="#1B4FBA" stroke-width="1.8" fill="none"/>
<path d="M810 1081.4V1234.4M806 1081.4h8M806 1234.4h8" stroke="#1B4FBA" stroke-width="1.8" fill="none"/>
<path d="M878.8 1102.4V1240.2M874.8 1102.4h8M874.8 1240.2h8" stroke="#1B4FBA" stroke-width="1.8" fill="none"/>
<path d="M975.1 1148V1276.4M971.1 1148h8M971.1 1276.4h8" stroke="#1B4FBA" stroke-width="1.8" fill="none"/>
<path d="M1057.6 1173.7V1279.9M1053.6 1173.7h8M1053.6 1279.9h8" stroke="#1B4FBA" stroke-width="1.8" fill="none"/>
<path d="M686.1 1259V1344.9M682.1 1259h8M682.1 1344.9h8" stroke="#E96A12" stroke-width="1.8" fill="none"/>
<path d="M754.9 1164.2V1329M750.9 1164.2h8M750.9 1329h8" stroke="#E96A12" stroke-width="1.8" fill="none"/>
<path d="M810 1195.1V1324.3M806 1195.1h8M806 1324.3h8" stroke="#E96A12" stroke-width="1.8" fill="none"/>
<path d="M878.8 1178.5V1319.5M874.8 1178.5h8M874.8 1319.5h8" stroke="#E96A12" stroke-width="1.8" fill="none"/>
<path d="M975.1 1223.2V1335.8M971.1 1223.2h8M971.1 1335.8h8" stroke="#E96A12" stroke-width="1.8" fill="none"/>
<path d="M1057.6 1240V1331M1053.6 1240h8M1053.6 1331h8" stroke="#E96A12" stroke-width="1.8" fill="none"/>
<path d="M686.1 1259.1V1346.9M682.1 1259.1h8M682.1 1346.9h8" stroke="#404040" stroke-width="1.8" fill="none"/>
<path d="M754.9 1179.4V1288.6M750.9 1179.4h8M750.9 1288.6h8" stroke="#404040" stroke-width="1.8" fill="none"/>
<path d="M810 1186.5V1281.5M806 1186.5h8M806 1281.5h8" stroke="#404040" stroke-width="1.8" fill="none"/>
<path d="M878.8 1241V1327M874.8 1241h8M874.8 1327h8" stroke="#404040" stroke-width="1.8" fill="none"/>
<path d="M975.1 1270V1327M971.1 1270h8M971.1 1327h8" stroke="#404040" stroke-width="1.8" fill="none"/>
<path d="M1057.6 1297.9V1344.1M1053.6 1297.9h8M1053.6 1344.1h8" stroke="#404040" stroke-width="1.8" fill="none"/>
<polyline points="177,1392 273.3,1392 314.6,1384 369.6,1357 466,1343 562.3,1323.5 617.3,1387 686.1,1147.6 754.9,1222.9 810,1197.5 878.8,1214.9 975.1,1254.5 1057.6,1259.7" fill="none" stroke="#FF0000" stroke-width="6.5" stroke-linejoin="round"/>
<polyline points="177,1392 273.3,1392 314.6,1383 369.6,1362 466,1355.6 562.3,1366 617.3,1392 686.1,1239.9 754.9,1165.8 810,1157.9 878.8,1171.3 975.1,1212.2 1057.6,1226.8" fill="none" stroke="#1B4FBA" stroke-width="5" stroke-linejoin="round"/>
<polyline points="177,1392 273.3,1392 314.6,1385 369.6,1375 466,1372.7 562.3,1368 617.3,1392 686.1,1302 754.9,1246.6 810,1259.7 878.8,1249 975.1,1279.5 1057.6,1285.5" fill="none" stroke="#E96A12" stroke-width="5.5" stroke-linejoin="round"/>
<polyline points="177,1392 273.3,1392 314.6,1383 369.6,1377 466,1370 562.3,1368 617.3,1392 686.1,1303 754.9,1234 810,1234 878.8,1284 975.1,1298.5 1057.6,1321" fill="none" stroke="#565656" stroke-width="5.5" stroke-linejoin="round"/>
<circle cx="177" cy="1392" r="10.2" fill="#FF0000"/>
<circle cx="273.3" cy="1392" r="10.2" fill="#FF0000"/>
<circle cx="314.6" cy="1384" r="10.2" fill="#FF0000"/>
<circle cx="369.6" cy="1357" r="10.2" fill="#FF0000"/>
<circle cx="466" cy="1343" r="10.2" fill="#FF0000"/>
<circle cx="562.3" cy="1323.5" r="10.2" fill="#FF0000"/>
<circle cx="617.3" cy="1387" r="10.2" fill="#FF0000"/>
<circle cx="686.1" cy="1147.6" r="10.2" fill="#FF0000"/>
<circle cx="754.9" cy="1222.9" r="10.2" fill="#FF0000"/>
<circle cx="810" cy="1197.5" r="10.2" fill="#FF0000"/>
<circle cx="878.8" cy="1214.9" r="10.2" fill="#FF0000"/>
<circle cx="975.1" cy="1254.5" r="10.2" fill="#FF0000"/>
<circle cx="1057.6" cy="1259.7" r="10.2" fill="#FF0000"/>
<rect x="166.8" y="1381.8" width="20.5" height="20.5" fill="#4472C4" stroke="#1F4EBF" stroke-width="1.2"/>
<rect x="263.1" y="1381.8" width="20.5" height="20.5" fill="#4472C4" stroke="#1F4EBF" stroke-width="1.2"/>
<rect x="304.4" y="1372.8" width="20.5" height="20.5" fill="#4472C4" stroke="#1F4EBF" stroke-width="1.2"/>
<rect x="359.4" y="1351.8" width="20.5" height="20.5" fill="#4472C4" stroke="#1F4EBF" stroke-width="1.2"/>
<rect x="455.7" y="1345.3" width="20.5" height="20.5" fill="#4472C4" stroke="#1F4EBF" stroke-width="1.2"/>
<rect x="552" y="1355.8" width="20.5" height="20.5" fill="#4472C4" stroke="#1F4EBF" stroke-width="1.2"/>
<rect x="607.1" y="1381.8" width="20.5" height="20.5" fill="#4472C4" stroke="#1F4EBF" stroke-width="1.2"/>
<rect x="675.9" y="1229.7" width="20.5" height="20.5" fill="#4472C4" stroke="#1F4EBF" stroke-width="1.2"/>
<rect x="744.7" y="1155.5" width="20.5" height="20.5" fill="#4472C4" stroke="#1F4EBF" stroke-width="1.2"/>
<rect x="799.7" y="1147.7" width="20.5" height="20.5" fill="#4472C4" stroke="#1F4EBF" stroke-width="1.2"/>
<rect x="868.5" y="1161" width="20.5" height="20.5" fill="#4472C4" stroke="#1F4EBF" stroke-width="1.2"/>
<rect x="964.8" y="1202" width="20.5" height="20.5" fill="#4472C4" stroke="#1F4EBF" stroke-width="1.2"/>
<rect x="1047.4" y="1216.5" width="20.5" height="20.5" fill="#4472C4" stroke="#1F4EBF" stroke-width="1.2"/>
<path d="M177 1378.2L190.8 1392L177 1405.8L163.2 1392Z" fill="#EB7D32" stroke="#E86A18" stroke-width="1.2"/>
<path d="M273.3 1378.2L287.1 1392L273.3 1405.8L259.6 1392Z" fill="#EB7D32" stroke="#E86A18" stroke-width="1.2"/>
<path d="M314.6 1371.2L328.4 1385L314.6 1398.8L300.9 1385Z" fill="#EB7D32" stroke="#E86A18" stroke-width="1.2"/>
<path d="M369.6 1361.2L383.4 1375L369.6 1388.8L355.9 1375Z" fill="#EB7D32" stroke="#E86A18" stroke-width="1.2"/>
<path d="M466 1359L479.7 1372.7L466 1386.5L452.2 1372.7Z" fill="#EB7D32" stroke="#E86A18" stroke-width="1.2"/>
<path d="M562.3 1354.2L576 1368L562.3 1381.8L548.5 1368Z" fill="#EB7D32" stroke="#E86A18" stroke-width="1.2"/>
<path d="M617.3 1378.2L631.1 1392L617.3 1405.8L603.6 1392Z" fill="#EB7D32" stroke="#E86A18" stroke-width="1.2"/>
<path d="M686.1 1288.2L699.9 1302L686.1 1315.8L672.4 1302Z" fill="#EB7D32" stroke="#E86A18" stroke-width="1.2"/>
<path d="M754.9 1232.8L768.7 1246.6L754.9 1260.3L741.2 1246.6Z" fill="#EB7D32" stroke="#E86A18" stroke-width="1.2"/>
<path d="M810 1246L823.7 1259.7L810 1273.5L796.2 1259.7Z" fill="#EB7D32" stroke="#E86A18" stroke-width="1.2"/>
<path d="M878.8 1235.2L892.5 1249L878.8 1262.8L865 1249Z" fill="#EB7D32" stroke="#E86A18" stroke-width="1.2"/>
<path d="M975.1 1265.8L988.8 1279.5L975.1 1293.2L961.3 1279.5Z" fill="#EB7D32" stroke="#E86A18" stroke-width="1.2"/>
<path d="M1057.6 1271.8L1071.4 1285.5L1057.6 1299.2L1043.9 1285.5Z" fill="#EB7D32" stroke="#E86A18" stroke-width="1.2"/>
<path d="M177 1378.5L187.7 1405.5L166.3 1405.5Z" fill="#646464" stroke="#4A4A4A" stroke-width="1.2" stroke-linejoin="round"/>
<path d="M273.3 1378.5L284 1405.5L262.7 1405.5Z" fill="#646464" stroke="#4A4A4A" stroke-width="1.2" stroke-linejoin="round"/>
<path d="M314.6 1369.5L325.2 1396.5L304 1396.5Z" fill="#646464" stroke="#4A4A4A" stroke-width="1.2" stroke-linejoin="round"/>
<path d="M369.6 1363.5L380.3 1390.5L359 1390.5Z" fill="#646464" stroke="#4A4A4A" stroke-width="1.2" stroke-linejoin="round"/>
<path d="M466 1356.5L476.6 1383.5L455.3 1383.5Z" fill="#646464" stroke="#4A4A4A" stroke-width="1.2" stroke-linejoin="round"/>
<path d="M562.3 1354.5L572.9 1381.5L551.6 1381.5Z" fill="#646464" stroke="#4A4A4A" stroke-width="1.2" stroke-linejoin="round"/>
<path d="M617.3 1378.5L628 1405.5L606.7 1405.5Z" fill="#646464" stroke="#4A4A4A" stroke-width="1.2" stroke-linejoin="round"/>
<path d="M686.1 1289.5L696.8 1316.5L675.5 1316.5Z" fill="#646464" stroke="#4A4A4A" stroke-width="1.2" stroke-linejoin="round"/>
<path d="M754.9 1220.5L765.6 1247.5L744.3 1247.5Z" fill="#646464" stroke="#4A4A4A" stroke-width="1.2" stroke-linejoin="round"/>
<path d="M810 1220.5L820.6 1247.5L799.3 1247.5Z" fill="#646464" stroke="#4A4A4A" stroke-width="1.2" stroke-linejoin="round"/>
<path d="M878.8 1270.5L889.4 1297.5L868.1 1297.5Z" fill="#646464" stroke="#4A4A4A" stroke-width="1.2" stroke-linejoin="round"/>
<path d="M975.1 1285L985.7 1312L964.4 1312Z" fill="#646464" stroke="#4A4A4A" stroke-width="1.2" stroke-linejoin="round"/>
<path d="M1057.6 1307.5L1068.3 1334.5L1047 1334.5Z" fill="#646464" stroke="#4A4A4A" stroke-width="1.2" stroke-linejoin="round"/>
<g stroke="#000" stroke-width="3" fill="none" stroke-linecap="butt">
<path d="M176 1501.5V1900"/>
<path d="M176 1888H1141.7"/>
<path d="M168 1887H176"/>
<path d="M168 1789.4H176"/>
<path d="M168 1693.4H176"/>
<path d="M168 1598.6H176"/>
<path d="M168 1501.5H176"/>
<path d="M168 1838.5H176"/>
<path d="M168 1742.6H176"/>
<path d="M168 1647H176"/>
<path d="M168 1551H176"/>
<path d="M314.6 1888V1900"/>
<path d="M452.2 1888V1900"/>
<path d="M589.8 1888V1900"/>
<path d="M727.4 1888V1900"/>
<path d="M865 1888V1900"/>
<path d="M1002.6 1888V1900"/>
<path d="M1140.2 1888V1900"/>
</g>
<g fill="#000">
<text transform="translate(149.46 1901.5) scale(0.95 1)" font-size="41.5" text-anchor="middle" stroke="#fff" stroke-width="0.6">0</text>
<text transform="translate(149.46 1803.9) scale(0.95 1)" font-size="41.5" text-anchor="middle" stroke="#fff" stroke-width="0.6">4</text>
<text transform="translate(149.46 1707.9) scale(0.95 1)" font-size="41.5" text-anchor="middle" stroke="#fff" stroke-width="0.6">8</text>
<path d="M612 0L612 1225L140 985L140 1150L620 1409L748 1409L748 0Z" transform="translate(114.84 1613.1) scale(0.02026 -0.02026)"/>
<text transform="translate(149.46 1613.1) scale(0.95 1)" font-size="41.5" text-anchor="middle" stroke="#fff" stroke-width="0.6">2</text>
<path d="M612 0L612 1225L140 985L140 1150L620 1409L748 1409L748 0Z" transform="translate(114.84 1516) scale(0.02026 -0.02026)"/>
<text transform="translate(149.46 1516) scale(0.95 1)" font-size="41.5" text-anchor="middle" stroke="#fff" stroke-width="0.6">6</text>
<text transform="translate(177.00 1934) scale(0.95 1)" font-size="41.5" text-anchor="middle" stroke="#fff" stroke-width="0.6">0</text>
<path d="M612 0L612 1225L140 985L140 1150L620 1409L748 1409L748 0Z" transform="translate(291.52 1934) scale(0.02026 -0.02026)"/>
<text transform="translate(326.14 1934) scale(0.95 1)" font-size="41.5" text-anchor="middle" stroke="#fff" stroke-width="0.6">0</text>
<text transform="translate(440.66 1934) scale(0.95 1)" font-size="41.5" text-anchor="middle" stroke="#fff" stroke-width="0.6">2</text>
<text transform="translate(463.74 1934) scale(0.95 1)" font-size="41.5" text-anchor="middle" stroke="#fff" stroke-width="0.6">0</text>
<text transform="translate(578.26 1934) scale(0.95 1)" font-size="41.5" text-anchor="middle" stroke="#fff" stroke-width="0.6">3</text>
<text transform="translate(601.34 1934) scale(0.95 1)" font-size="41.5" text-anchor="middle" stroke="#fff" stroke-width="0.6">0</text>
<text transform="translate(715.86 1934) scale(0.95 1)" font-size="41.5" text-anchor="middle" stroke="#fff" stroke-width="0.6">4</text>
<text transform="translate(738.94 1934) scale(0.95 1)" font-size="41.5" text-anchor="middle" stroke="#fff" stroke-width="0.6">0</text>
<text transform="translate(853.46 1934) scale(0.95 1)" font-size="41.5" text-anchor="middle" stroke="#fff" stroke-width="0.6">5</text>
<text transform="translate(876.54 1934) scale(0.95 1)" font-size="41.5" text-anchor="middle" stroke="#fff" stroke-width="0.6">0</text>
<text transform="translate(991.06 1934) scale(0.95 1)" font-size="41.5" text-anchor="middle" stroke="#fff" stroke-width="0.6">6</text>
<text transform="translate(1014.14 1934) scale(0.95 1)" font-size="41.5" text-anchor="middle" stroke="#fff" stroke-width="0.6">0</text>
<text transform="translate(1128.66 1934) scale(0.95 1)" font-size="41.5" text-anchor="middle" stroke="#fff" stroke-width="0.6">7</text>
<text transform="translate(1151.74 1934) scale(0.95 1)" font-size="41.5" text-anchor="middle" stroke="#fff" stroke-width="0.6">0</text>
<text transform="translate(69.8 1704.4) rotate(-90) scale(1.0 1)" x="0" y="0" font-size="45.5" font-weight="bold" text-anchor="middle">IgM</text>
<text x="589.5" y="1641.8" font-size="35.5" text-anchor="middle" font-weight="normal" stroke="#fff" stroke-width="0.6" letter-spacing="1.5">2nd</text>
<text x="589.5" y="1674.8" font-size="35.5" text-anchor="middle" font-weight="normal" stroke="#fff" stroke-width="0.6">Injection</text>
</g>
<path d="M588.9 1683V1721.5" stroke="#000" stroke-width="3" stroke-linecap="round"/>
<path d="M580.4 1719.3Q588.9 1720.5 598.6 1719.3L588.9 1734.5Z" fill="#000"/>
<path d="M273.3 1789V1830.6M269.3 1789h8M269.3 1830.6h8" stroke="#FF0000" stroke-width="1.8" fill="none"/>
<path d="M314.6 1619.4V1821M310.6 1619.4h8M310.6 1821h8" stroke="#FF0000" stroke-width="1.8" fill="none"/>
<path d="M369.6 1635.4V1805M365.6 1635.4h8M365.6 1805h8" stroke="#FF0000" stroke-width="1.8" fill="none"/>
<path d="M466 1702.1V1805.5M462 1702.1h8M462 1805.5h8" stroke="#FF0000" stroke-width="1.8" fill="none"/>
<path d="M562.3 1733.6V1819.6M558.3 1733.6h8M558.3 1819.6h8" stroke="#FF0000" stroke-width="1.8" fill="none"/>
<path d="M617.3 1774V1844M613.3 1774h8M613.3 1844h8" stroke="#FF0000" stroke-width="1.8" fill="none"/>
<path d="M686.1 1770V1820M682.1 1770h8M682.1 1820h8" stroke="#FF0000" stroke-width="1.8" fill="none"/>
<path d="M754.9 1745.6V1839.2M750.9 1745.6h8M750.9 1839.2h8" stroke="#FF0000" stroke-width="1.8" fill="none"/>
<path d="M810 1750V1836M806 1750h8M806 1836h8" stroke="#FF0000" stroke-width="1.8" fill="none"/>
<path d="M878.8 1730V1808.8M874.8 1730h8M874.8 1808.8h8" stroke="#FF0000" stroke-width="1.8" fill="none"/>
<path d="M975.1 1723.8V1829.2M971.1 1723.8h8M971.1 1829.2h8" stroke="#FF0000" stroke-width="1.8" fill="none"/>
<path d="M1057.6 1696V1828.6M1053.6 1696h8M1053.6 1828.6h8" stroke="#FF0000" stroke-width="1.8" fill="none"/>
<path d="M314.6 1715V1799.4M310.6 1715h8M310.6 1799.4h8" stroke="#1B4FBA" stroke-width="1.8" fill="none"/>
<path d="M369.6 1738V1793.8M365.6 1738h8M365.6 1793.8h8" stroke="#1B4FBA" stroke-width="1.8" fill="none"/>
<path d="M466 1722V1798.6M462 1722h8M462 1798.6h8" stroke="#1B4FBA" stroke-width="1.8" fill="none"/>
<path d="M562.3 1755V1813M558.3 1755h8M558.3 1813h8" stroke="#1B4FBA" stroke-width="1.8" fill="none"/>
<path d="M617.3 1800V1836.8M613.3 1800h8M613.3 1836.8h8" stroke="#1B4FBA" stroke-width="1.8" fill="none"/>
<path d="M686.1 1727.8V1811M682.1 1727.8h8M682.1 1811h8" stroke="#1B4FBA" stroke-width="1.8" fill="none"/>
<path d="M754.9 1640V1768.6M750.9 1640h8M750.9 1768.6h8" stroke="#1B4FBA" stroke-width="1.8" fill="none"/>
<path d="M810 1640.6V1775.4M806 1640.6h8M806 1775.4h8" stroke="#1B4FBA" stroke-width="1.8" fill="none"/>
<path d="M878.8 1661.6V1767.8M874.8 1661.6h8M874.8 1767.8h8" stroke="#1B4FBA" stroke-width="1.8" fill="none"/>
<path d="M975.1 1735V1780M971.1 1735h8M971.1 1780h8" stroke="#1B4FBA" stroke-width="1.8" fill="none"/>
<path d="M1057.6 1669.6V1775.8M1053.6 1669.6h8M1053.6 1775.8h8" stroke="#1B4FBA" stroke-width="1.8" fill="none"/>
<path d="M314.6 1767.7V1817.5M310.6 1767.7h8M310.6 1817.5h8" stroke="#E96A12" stroke-width="1.8" fill="none"/>
<path d="M369.6 1772.4V1817M365.6 1772.4h8M365.6 1817h8" stroke="#E96A12" stroke-width="1.8" fill="none"/>
<path d="M466 1750V1809M462 1750h8M462 1809h8" stroke="#E96A12" stroke-width="1.8" fill="none"/>
<path d="M562.3 1780V1831M558.3 1780h8M558.3 1831h8" stroke="#E96A12" stroke-width="1.8" fill="none"/>
<path d="M686.1 1772V1838M682.1 1772h8M682.1 1838h8" stroke="#E96A12" stroke-width="1.8" fill="none"/>
<path d="M754.9 1749.3V1838.7M750.9 1749.3h8M750.9 1838.7h8" stroke="#E96A12" stroke-width="1.8" fill="none"/>
<path d="M810 1771.3V1842.7M806 1771.3h8M806 1842.7h8" stroke="#E96A12" stroke-width="1.8" fill="none"/>
<path d="M878.8 1784.4V1840M874.8 1784.4h8M874.8 1840h8" stroke="#E96A12" stroke-width="1.8" fill="none"/>
<path d="M975.1 1791.3V1842.7M971.1 1791.3h8M971.1 1842.7h8" stroke="#E96A12" stroke-width="1.8" fill="none"/>
<path d="M1057.6 1761.5V1824.9M1053.6 1761.5h8M1053.6 1824.9h8" stroke="#E96A12" stroke-width="1.8" fill="none"/>
<path d="M466 1723.6V1797M462 1723.6h8M462 1797h8" stroke="#404040" stroke-width="1.8" fill="none"/>
<path d="M562.3 1751.6V1812M558.3 1751.6h8M558.3 1812h8" stroke="#404040" stroke-width="1.8" fill="none"/>
<path d="M617.3 1794.7V1833.3M613.3 1794.7h8M613.3 1833.3h8" stroke="#404040" stroke-width="1.8" fill="none"/>
<path d="M686.1 1570.5V1675.1M682.1 1570.5h8M682.1 1675.1h8" stroke="#404040" stroke-width="1.8" fill="none"/>
<path d="M754.9 1550.7V1663.3M750.9 1550.7h8M750.9 1663.3h8" stroke="#404040" stroke-width="1.8" fill="none"/>
<path d="M810 1642.6V1718M806 1642.6h8M806 1718h8" stroke="#404040" stroke-width="1.8" fill="none"/>
<path d="M878.8 1651.7V1729M874.8 1651.7h8M874.8 1729h8" stroke="#404040" stroke-width="1.8" fill="none"/>
<path d="M975.1 1648.6V1743.6M971.1 1648.6h8M971.1 1743.6h8" stroke="#404040" stroke-width="1.8" fill="none"/>
<path d="M1057.6 1591.9V1687.7M1053.6 1591.9h8M1053.6 1687.7h8" stroke="#404040" stroke-width="1.8" fill="none"/>
<polyline points="177,1872 273.3,1809.8 314.6,1720.2 369.6,1720.2 466,1753.8 562.3,1776.6 617.3,1809 686.1,1795.2 754.9,1792.4 810,1793.2 878.8,1769.4 975.1,1776.5 1057.6,1762.3" fill="none" stroke="#FF0000" stroke-width="6.5" stroke-linejoin="round"/>
<polyline points="177,1874 273.3,1814 314.6,1757.2 369.6,1765.9 466,1760.3 562.3,1784 617.3,1818.4 686.1,1769.4 754.9,1692.2 810,1708 878.8,1714.7 975.1,1757.5 1057.6,1722.7" fill="none" stroke="#1B4FBA" stroke-width="5" stroke-linejoin="round"/>
<polyline points="177,1876.5 273.3,1827 314.6,1792.6 369.6,1794.7 466,1779.6 562.3,1805.5 617.3,1844.2 686.1,1805 754.9,1794 810,1807 878.8,1812.2 975.1,1817 1057.6,1793.2" fill="none" stroke="#E96A12" stroke-width="5.5" stroke-linejoin="round"/>
<polyline points="177,1873.5 273.3,1831.3 314.6,1781.8 369.6,1773.2 466,1760.3 562.3,1781.8 617.3,1814 686.1,1622.8 754.9,1607 810,1680.3 878.8,1691.3 975.1,1696.1 1057.6,1639.8" fill="none" stroke="#565656" stroke-width="5.5" stroke-linejoin="round"/>
<circle cx="177" cy="1872" r="10.2" fill="#FF0000"/>
<circle cx="273.3" cy="1809.8" r="10.2" fill="#FF0000"/>
<circle cx="314.6" cy="1720.2" r="10.2" fill="#FF0000"/>
<circle cx="369.6" cy="1720.2" r="10.2" fill="#FF0000"/>
<circle cx="466" cy="1753.8" r="10.2" fill="#FF0000"/>
<circle cx="562.3" cy="1776.6" r="10.2" fill="#FF0000"/>
<circle cx="617.3" cy="1809" r="10.2" fill="#FF0000"/>
<circle cx="686.1" cy="1795.2" r="10.2" fill="#FF0000"/>
<circle cx="754.9" cy="1792.4" r="10.2" fill="#FF0000"/>
<circle cx="810" cy="1793.2" r="10.2" fill="#FF0000"/>
<circle cx="878.8" cy="1769.4" r="10.2" fill="#FF0000"/>
<circle cx="975.1" cy="1776.5" r="10.2" fill="#FF0000"/>
<circle cx="1057.6" cy="1762.3" r="10.2" fill="#FF0000"/>
<rect x="166.8" y="1863.8" width="20.5" height="20.5" fill="#4472C4" stroke="#1F4EBF" stroke-width="1.2"/>
<rect x="263.1" y="1803.8" width="20.5" height="20.5" fill="#4472C4" stroke="#1F4EBF" stroke-width="1.2"/>
<rect x="304.4" y="1747" width="20.5" height="20.5" fill="#4472C4" stroke="#1F4EBF" stroke-width="1.2"/>
<rect x="359.4" y="1755.7" width="20.5" height="20.5" fill="#4472C4" stroke="#1F4EBF" stroke-width="1.2"/>
<rect x="455.7" y="1750" width="20.5" height="20.5" fill="#4472C4" stroke="#1F4EBF" stroke-width="1.2"/>
<rect x="552" y="1773.8" width="20.5" height="20.5" fill="#4472C4" stroke="#1F4EBF" stroke-width="1.2"/>
<rect x="607.1" y="1808.2" width="20.5" height="20.5" fill="#4472C4" stroke="#1F4EBF" stroke-width="1.2"/>
<rect x="675.9" y="1759.2" width="20.5" height="20.5" fill="#4472C4" stroke="#1F4EBF" stroke-width="1.2"/>
<rect x="744.7" y="1682" width="20.5" height="20.5" fill="#4472C4" stroke="#1F4EBF" stroke-width="1.2"/>
<rect x="799.7" y="1697.8" width="20.5" height="20.5" fill="#4472C4" stroke="#1F4EBF" stroke-width="1.2"/>
<rect x="868.5" y="1704.5" width="20.5" height="20.5" fill="#4472C4" stroke="#1F4EBF" stroke-width="1.2"/>
<rect x="964.8" y="1747.2" width="20.5" height="20.5" fill="#4472C4" stroke="#1F4EBF" stroke-width="1.2"/>
<rect x="1047.4" y="1712.5" width="20.5" height="20.5" fill="#4472C4" stroke="#1F4EBF" stroke-width="1.2"/>
<path d="M177 1862.8L190.8 1876.5L177 1890.2L163.2 1876.5Z" fill="#EB7D32" stroke="#E86A18" stroke-width="1.2"/>
<path d="M273.3 1813.2L287.1 1827L273.3 1840.8L259.6 1827Z" fill="#EB7D32" stroke="#E86A18" stroke-width="1.2"/>
<path d="M314.6 1778.8L328.4 1792.6L314.6 1806.3L300.9 1792.6Z" fill="#EB7D32" stroke="#E86A18" stroke-width="1.2"/>
<path d="M369.6 1781L383.4 1794.7L369.6 1808.5L355.9 1794.7Z" fill="#EB7D32" stroke="#E86A18" stroke-width="1.2"/>
<path d="M466 1765.8L479.7 1779.6L466 1793.3L452.2 1779.6Z" fill="#EB7D32" stroke="#E86A18" stroke-width="1.2"/>
<path d="M562.3 1791.8L576 1805.5L562.3 1819.2L548.5 1805.5Z" fill="#EB7D32" stroke="#E86A18" stroke-width="1.2"/>
<path d="M617.3 1830.5L631.1 1844.2L617.3 1858L603.6 1844.2Z" fill="#EB7D32" stroke="#E86A18" stroke-width="1.2"/>
<path d="M686.1 1791.2L699.9 1805L686.1 1818.8L672.4 1805Z" fill="#EB7D32" stroke="#E86A18" stroke-width="1.2"/>
<path d="M754.9 1780.2L768.7 1794L754.9 1807.8L741.2 1794Z" fill="#EB7D32" stroke="#E86A18" stroke-width="1.2"/>
<path d="M810 1793.2L823.7 1807L810 1820.8L796.2 1807Z" fill="#EB7D32" stroke="#E86A18" stroke-width="1.2"/>
<path d="M878.8 1798.5L892.5 1812.2L878.8 1826L865 1812.2Z" fill="#EB7D32" stroke="#E86A18" stroke-width="1.2"/>
<path d="M975.1 1803.2L988.8 1817L975.1 1830.8L961.3 1817Z" fill="#EB7D32" stroke="#E86A18" stroke-width="1.2"/>
<path d="M1057.6 1779.5L1071.4 1793.2L1057.6 1807L1043.9 1793.2Z" fill="#EB7D32" stroke="#E86A18" stroke-width="1.2"/>
<path d="M177 1860L187.7 1887L166.3 1887Z" fill="#646464" stroke="#4A4A4A" stroke-width="1.2" stroke-linejoin="round"/>
<path d="M273.3 1817.8L284 1844.8L262.7 1844.8Z" fill="#646464" stroke="#4A4A4A" stroke-width="1.2" stroke-linejoin="round"/>
<path d="M314.6 1768.3L325.2 1795.3L304 1795.3Z" fill="#646464" stroke="#4A4A4A" stroke-width="1.2" stroke-linejoin="round"/>
<path d="M369.6 1759.7L380.3 1786.7L359 1786.7Z" fill="#646464" stroke="#4A4A4A" stroke-width="1.2" stroke-linejoin="round"/>
<path d="M466 1746.8L476.6 1773.8L455.3 1773.8Z" fill="#646464" stroke="#4A4A4A" stroke-width="1.2" stroke-linejoin="round"/>
<path d="M562.3 1768.3L572.9 1795.3L551.6 1795.3Z" fill="#646464" stroke="#4A4A4A" stroke-width="1.2" stroke-linejoin="round"/>
<path d="M617.3 1800.5L628 1827.5L606.7 1827.5Z" fill="#646464" stroke="#4A4A4A" stroke-width="1.2" stroke-linejoin="round"/>
<path d="M686.1 1609.3L696.8 1636.3L675.5 1636.3Z" fill="#646464" stroke="#4A4A4A" stroke-width="1.2" stroke-linejoin="round"/>
<path d="M754.9 1593.5L765.6 1620.5L744.3 1620.5Z" fill="#646464" stroke="#4A4A4A" stroke-width="1.2" stroke-linejoin="round"/>
<path d="M810 1666.8L820.6 1693.8L799.3 1693.8Z" fill="#646464" stroke="#4A4A4A" stroke-width="1.2" stroke-linejoin="round"/>
<path d="M878.8 1677.8L889.4 1704.8L868.1 1704.8Z" fill="#646464" stroke="#4A4A4A" stroke-width="1.2" stroke-linejoin="round"/>
<path d="M975.1 1682.6L985.7 1709.6L964.4 1709.6Z" fill="#646464" stroke="#4A4A4A" stroke-width="1.2" stroke-linejoin="round"/>
<path d="M1057.6 1626.3L1068.3 1653.3L1047 1653.3Z" fill="#646464" stroke="#4A4A4A" stroke-width="1.2" stroke-linejoin="round"/>
<g stroke="#000" stroke-width="3" fill="none" stroke-linecap="butt">
<path d="M176 2002V2399"/>
<path d="M176 2387H1141.7"/>
<path d="M168 2387H176"/>
<path d="M168 2301H176"/>
<path d="M168 2215.6H176"/>
<path d="M168 2130H176"/>
<path d="M168 2045.6H176"/>
<path d="M168 2344H176"/>
<path d="M168 2259H176"/>
<path d="M168 2172H176"/>
<path d="M168 2087H176"/>
<path d="M168 2002H176"/>
<path d="M314.6 2387V2399"/>
<path d="M452.2 2387V2399"/>
<path d="M589.8 2387V2399"/>
<path d="M727.4 2387V2399"/>
<path d="M865 2387V2399"/>
<path d="M1002.6 2387V2399"/>
<path d="M1140.2 2387V2399"/>
</g>
<g fill="#000">
<text transform="translate(149.46 2401.5) scale(0.95 1)" font-size="41.5" text-anchor="middle" stroke="#fff" stroke-width="0.6">0</text>
<text transform="translate(114.85 2315.5) scale(0.95 1)" font-size="41.5" text-anchor="middle" stroke="#fff" stroke-width="0.6">0</text>
<text transform="translate(132.15 2315.5) scale(0.95 1)" font-size="41.5" text-anchor="middle" stroke="#fff" stroke-width="0.6">.</text>
<path d="M612 0L612 1225L140 985L140 1150L620 1409L748 1409L748 0Z" transform="translate(137.92 2315.5) scale(0.02026 -0.02026)"/>
<text transform="translate(114.85 2230.1) scale(0.95 1)" font-size="41.5" text-anchor="middle" stroke="#fff" stroke-width="0.6">0</text>
<text transform="translate(132.15 2230.1) scale(0.95 1)" font-size="41.5" text-anchor="middle" stroke="#fff" stroke-width="0.6">.</text>
<text transform="translate(149.46 2230.1) scale(0.95 1)" font-size="41.5" text-anchor="middle" stroke="#fff" stroke-width="0.6">2</text>
<text transform="translate(114.85 2144.5) scale(0.95 1)" font-size="41.5" text-anchor="middle" stroke="#fff" stroke-width="0.6">0</text>
<text transform="translate(132.15 2144.5) scale(0.95 1)" font-size="41.5" text-anchor="middle" stroke="#fff" stroke-width="0.6">.</text>
<text transform="translate(149.46 2144.5) scale(0.95 1)" font-size="41.5" text-anchor="middle" stroke="#fff" stroke-width="0.6">3</text>
<text transform="translate(114.85 2060.1) scale(0.95 1)" font-size="41.5" text-anchor="middle" stroke="#fff" stroke-width="0.6">0</text>
<text transform="translate(132.15 2060.1) scale(0.95 1)" font-size="41.5" text-anchor="middle" stroke="#fff" stroke-width="0.6">.</text>
<text transform="translate(149.46 2060.1) scale(0.95 1)" font-size="41.5" text-anchor="middle" stroke="#fff" stroke-width="0.6">4</text>
<text transform="translate(177.00 2433) scale(0.95 1)" font-size="41.5" text-anchor="middle" stroke="#fff" stroke-width="0.6">0</text>
<path d="M612 0L612 1225L140 985L140 1150L620 1409L748 1409L748 0Z" transform="translate(291.52 2433) scale(0.02026 -0.02026)"/>
<text transform="translate(326.14 2433) scale(0.95 1)" font-size="41.5" text-anchor="middle" stroke="#fff" stroke-width="0.6">0</text>
<text transform="translate(440.66 2433) scale(0.95 1)" font-size="41.5" text-anchor="middle" stroke="#fff" stroke-width="0.6">2</text>
<text transform="translate(463.74 2433) scale(0.95 1)" font-size="41.5" text-anchor="middle" stroke="#fff" stroke-width="0.6">0</text>
<text transform="translate(578.26 2433) scale(0.95 1)" font-size="41.5" text-anchor="middle" stroke="#fff" stroke-width="0.6">3</text>
<text transform="translate(601.34 2433) scale(0.95 1)" font-size="41.5" text-anchor="middle" stroke="#fff" stroke-width="0.6">0</text>
<text transform="translate(715.86 2433) scale(0.95 1)" font-size="41.5" text-anchor="middle" stroke="#fff" stroke-width="0.6">4</text>
<text transform="translate(738.94 2433) scale(0.95 1)" font-size="41.5" text-anchor="middle" stroke="#fff" stroke-width="0.6">0</text>
<text transform="translate(853.46 2433) scale(0.95 1)" font-size="41.5" text-anchor="middle" stroke="#fff" stroke-width="0.6">5</text>
<text transform="translate(876.54 2433) scale(0.95 1)" font-size="41.5" text-anchor="middle" stroke="#fff" stroke-width="0.6">0</text>
<text transform="translate(991.06 2433) scale(0.95 1)" font-size="41.5" text-anchor="middle" stroke="#fff" stroke-width="0.6">6</text>
<text transform="translate(1014.14 2433) scale(0.95 1)" font-size="41.5" text-anchor="middle" stroke="#fff" stroke-width="0.6">0</text>
<text transform="translate(1128.66 2433) scale(0.95 1)" font-size="41.5" text-anchor="middle" stroke="#fff" stroke-width="0.6">7</text>
<text transform="translate(1151.74 2433) scale(0.95 1)" font-size="41.5" text-anchor="middle" stroke="#fff" stroke-width="0.6">0</text>
<text transform="translate(45.6 2207.9) rotate(-90) scale(1.0 1)" x="0" y="0" font-size="45.5" font-weight="bold" text-anchor="middle">IgA</text>
<text x="589.5" y="2151.3" font-size="35.5" text-anchor="middle" font-weight="normal" stroke="#fff" stroke-width="0.6" letter-spacing="1.5">2nd</text>
<text x="589.5" y="2182.8" font-size="35.5" text-anchor="middle" font-weight="normal" stroke="#fff" stroke-width="0.6">Injection</text>
</g>
<path d="M588.9 2192V2230" stroke="#000" stroke-width="3" stroke-linecap="round"/>
<path d="M580.4 2227.8Q588.9 2229 598.6 2227.8L588.9 2243Z" fill="#000"/>
<path d="M466 2334V2378M462 2334h8M462 2378h8" stroke="#FF0000" stroke-width="1.8" fill="none"/>
<path d="M562.3 2354.5V2381.5M558.3 2354.5h8M558.3 2381.5h8" stroke="#FF0000" stroke-width="1.8" fill="none"/>
<path d="M1057.6 2327.4V2372.6M1053.6 2327.4h8M1053.6 2372.6h8" stroke="#FF0000" stroke-width="1.8" fill="none"/>
<path d="M975.1 2259.5V2378.3M971.1 2259.5h8M971.1 2378.3h8" stroke="#E96A12" stroke-width="1.8" fill="none"/>
<path d="M1057.6 2056.7V2370.4M1053.6 2056.7h8M1053.6 2370.4h8" stroke="#E96A12" stroke-width="1.8" fill="none"/>
<path d="M369.6 2354V2374M365.6 2354h8M365.6 2374h8" stroke="#707070" stroke-width="1.8" fill="none"/>
<path d="M878.8 2322.4V2353.6M874.8 2322.4h8M874.8 2353.6h8" stroke="#707070" stroke-width="1.8" fill="none"/>
<path d="M975.1 2335.8V2365M971.1 2335.8h8M971.1 2365h8" stroke="#707070" stroke-width="1.8" fill="none"/>
<path d="M1057.6 2320V2358M1053.6 2320h8M1053.6 2358h8" stroke="#707070" stroke-width="1.8" fill="none"/>
<polyline points="177,2372 273.3,2376.5 314.6,2373 369.6,2372 466,2356 562.3,2368 617.3,2373 686.1,2374 754.9,2374 810,2368 878.8,2358 975.1,2364.5 1057.6,2350" fill="none" stroke="#FF0000" stroke-width="6.5" stroke-linejoin="round"/>
<polyline points="177,2373 273.3,2379.5 314.6,2376 369.6,2376 466,2372 562.3,2371 617.3,2376 686.1,2370 754.9,2368 810,2368 878.8,2367.7 975.1,2371.6 1057.6,2356.5" fill="none" stroke="#1B4FBA" stroke-width="5" stroke-linejoin="round"/>
<polyline points="177,2379.2 273.3,2380.5 314.6,2379 369.6,2382 466,2383 562.3,2382 617.3,2383 686.1,2378.4 754.9,2378.4 810,2378 878.8,2368.7 975.1,2318.9 1057.6,2213.2" fill="none" stroke="#E96A12" stroke-width="5.5" stroke-linejoin="round"/>
<polyline points="177,2368 273.3,2378 314.6,2374 369.6,2364 466,2366.3 562.3,2368 617.3,2372 686.1,2369 754.9,2366 810,2356.5 878.8,2340 975.1,2350.4 1057.6,2339" fill="none" stroke="#808080" stroke-width="4.5" stroke-linejoin="round"/>
<circle cx="177" cy="2372" r="10.2" fill="#FF0000"/>
<circle cx="273.3" cy="2376.5" r="10.2" fill="#FF0000"/>
<circle cx="314.6" cy="2373" r="10.2" fill="#FF0000"/>
<circle cx="369.6" cy="2372" r="10.2" fill="#FF0000"/>
<circle cx="466" cy="2356" r="10.2" fill="#FF0000"/>
<circle cx="562.3" cy="2368" r="10.2" fill="#FF0000"/>
<circle cx="617.3" cy="2373" r="10.2" fill="#FF0000"/>
<circle cx="686.1" cy="2374" r="10.2" fill="#FF0000"/>
<circle cx="754.9" cy="2374" r="10.2" fill="#FF0000"/>
<circle cx="810" cy="2368" r="10.2" fill="#FF0000"/>
<circle cx="878.8" cy="2358" r="10.2" fill="#FF0000"/>
<circle cx="975.1" cy="2364.5" r="10.2" fill="#FF0000"/>
<circle cx="1057.6" cy="2350" r="10.2" fill="#FF0000"/>
<rect x="166.8" y="2362.8" width="20.5" height="20.5" fill="#4472C4" stroke="#1F4EBF" stroke-width="1.2"/>
<rect x="263.1" y="2369.2" width="20.5" height="20.5" fill="#4472C4" stroke="#1F4EBF" stroke-width="1.2"/>
<rect x="304.4" y="2365.8" width="20.5" height="20.5" fill="#4472C4" stroke="#1F4EBF" stroke-width="1.2"/>
<rect x="359.4" y="2365.8" width="20.5" height="20.5" fill="#4472C4" stroke="#1F4EBF" stroke-width="1.2"/>
<rect x="455.7" y="2361.8" width="20.5" height="20.5" fill="#4472C4" stroke="#1F4EBF" stroke-width="1.2"/>
<rect x="552" y="2360.8" width="20.5" height="20.5" fill="#4472C4" stroke="#1F4EBF" stroke-width="1.2"/>
<rect x="607.1" y="2365.8" width="20.5" height="20.5" fill="#4472C4" stroke="#1F4EBF" stroke-width="1.2"/>
<rect x="675.9" y="2359.8" width="20.5" height="20.5" fill="#4472C4" stroke="#1F4EBF" stroke-width="1.2"/>
<rect x="744.7" y="2357.8" width="20.5" height="20.5" fill="#4472C4" stroke="#1F4EBF" stroke-width="1.2"/>
<rect x="799.7" y="2357.8" width="20.5" height="20.5" fill="#4472C4" stroke="#1F4EBF" stroke-width="1.2"/>
<rect x="868.5" y="2357.4" width="20.5" height="20.5" fill="#4472C4" stroke="#1F4EBF" stroke-width="1.2"/>
<rect x="964.8" y="2361.3" width="20.5" height="20.5" fill="#4472C4" stroke="#1F4EBF" stroke-width="1.2"/>
<rect x="1047.4" y="2346.2" width="20.5" height="20.5" fill="#4472C4" stroke="#1F4EBF" stroke-width="1.2"/>
<path d="M177 2365.4L190.8 2379.2L177 2392.9L163.2 2379.2Z" fill="#EB7D32" stroke="#E86A18" stroke-width="1.2"/>
<path d="M273.3 2366.8L287.1 2380.5L273.3 2394.2L259.6 2380.5Z" fill="#EB7D32" stroke="#E86A18" stroke-width="1.2"/>
<path d="M314.6 2365.2L328.4 2379L314.6 2392.8L300.9 2379Z" fill="#EB7D32" stroke="#E86A18" stroke-width="1.2"/>
<path d="M369.6 2368.2L383.4 2382L369.6 2395.8L355.9 2382Z" fill="#EB7D32" stroke="#E86A18" stroke-width="1.2"/>
<path d="M466 2369.2L479.7 2383L466 2396.8L452.2 2383Z" fill="#EB7D32" stroke="#E86A18" stroke-width="1.2"/>
<path d="M562.3 2368.2L576 2382L562.3 2395.8L548.5 2382Z" fill="#EB7D32" stroke="#E86A18" stroke-width="1.2"/>
<path d="M617.3 2369.2L631.1 2383L617.3 2396.8L603.6 2383Z" fill="#EB7D32" stroke="#E86A18" stroke-width="1.2"/>
<path d="M686.1 2364.7L699.9 2378.4L686.1 2392.2L672.4 2378.4Z" fill="#EB7D32" stroke="#E86A18" stroke-width="1.2"/>
<path d="M754.9 2364.7L768.7 2378.4L754.9 2392.2L741.2 2378.4Z" fill="#EB7D32" stroke="#E86A18" stroke-width="1.2"/>
<path d="M810 2364.2L823.7 2378L810 2391.8L796.2 2378Z" fill="#EB7D32" stroke="#E86A18" stroke-width="1.2"/>
<path d="M878.8 2354.9L892.5 2368.7L878.8 2382.4L865 2368.7Z" fill="#EB7D32" stroke="#E86A18" stroke-width="1.2"/>
<path d="M975.1 2305.2L988.8 2318.9L975.1 2332.7L961.3 2318.9Z" fill="#EB7D32" stroke="#E86A18" stroke-width="1.2"/>
<path d="M1057.6 2199.4L1071.4 2213.2L1057.6 2226.9L1043.9 2213.2Z" fill="#EB7D32" stroke="#E86A18" stroke-width="1.2"/>
<path d="M177 2359L185 2377L169 2377Z" fill="#7F7F7F" stroke="#7F7F7F" stroke-width="1.2" stroke-linejoin="round"/>
<path d="M273.3 2369L281.3 2387L265.3 2387Z" fill="#7F7F7F" stroke="#7F7F7F" stroke-width="1.2" stroke-linejoin="round"/>
<path d="M314.6 2365L322.6 2383L306.6 2383Z" fill="#7F7F7F" stroke="#7F7F7F" stroke-width="1.2" stroke-linejoin="round"/>
<path d="M369.6 2355L377.6 2373L361.6 2373Z" fill="#7F7F7F" stroke="#7F7F7F" stroke-width="1.2" stroke-linejoin="round"/>
<path d="M466 2357.3L474 2375.3L458 2375.3Z" fill="#7F7F7F" stroke="#7F7F7F" stroke-width="1.2" stroke-linejoin="round"/>
<path d="M562.3 2359L570.3 2377L554.3 2377Z" fill="#7F7F7F" stroke="#7F7F7F" stroke-width="1.2" stroke-linejoin="round"/>
<path d="M617.3 2363L625.3 2381L609.3 2381Z" fill="#7F7F7F" stroke="#7F7F7F" stroke-width="1.2" stroke-linejoin="round"/>
<path d="M686.1 2360L694.1 2378L678.1 2378Z" fill="#7F7F7F" stroke="#7F7F7F" stroke-width="1.2" stroke-linejoin="round"/>
<path d="M754.9 2357L762.9 2375L746.9 2375Z" fill="#7F7F7F" stroke="#7F7F7F" stroke-width="1.2" stroke-linejoin="round"/>
<path d="M810 2347.5L818 2365.5L802 2365.5Z" fill="#7F7F7F" stroke="#7F7F7F" stroke-width="1.2" stroke-linejoin="round"/>
<path d="M878.8 2331L886.8 2349L870.8 2349Z" fill="#7F7F7F" stroke="#7F7F7F" stroke-width="1.2" stroke-linejoin="round"/>
<path d="M975.1 2341.4L983.1 2359.4L967.1 2359.4Z" fill="#7F7F7F" stroke="#7F7F7F" stroke-width="1.2" stroke-linejoin="round"/>
<path d="M1057.6 2330L1065.6 2348L1049.6 2348Z" fill="#7F7F7F" stroke="#7F7F7F" stroke-width="1.2" stroke-linejoin="round"/>
<circle cx="206" cy="20" r="14.5" fill="#FF0000"/>
<rect x="192.3" y="51.3" width="27.5" height="28.8" fill="#4472C4" stroke="#1F4EBF" stroke-width="1.3"/>
<path d="M206 90L226.2 110.5L206 131L185.8 110.5Z" fill="#EB7D32" stroke="#E86A18" stroke-width="1.3"/>
<path d="M206 136.5L220 174.5L192.5 174.5Z" fill="#646464" stroke="#4A4A4A" stroke-width="1.3" stroke-linejoin="round"/>
<g fill="#000">
<text x="229" y="29.5" font-size="40" text-anchor="start" font-weight="normal" stroke="#fff" stroke-width="0.6">(–) D;</text>
<text x="339.6" y="29.5" font-size="40" text-anchor="start" font-weight="normal" stroke="#fff" stroke-width="0.6" letter-spacing="0.5">Low sCa</text>
<text x="229" y="75.4" font-size="40" text-anchor="start" font-weight="normal" stroke="#fff" stroke-width="0.6">(–) D;</text>
<text x="339.6" y="75.4" font-size="40" text-anchor="start" font-weight="normal" stroke="#fff" stroke-width="0.6" letter-spacing="0.4">Norm sCa</text>
<text x="229" y="121.3" font-size="40" text-anchor="start" font-weight="normal" stroke="#fff" stroke-width="0.6">(–) D</text>
<text x="382.5" y="121.3" font-size="40" text-anchor="start" font-weight="normal" stroke="#fff" stroke-width="0.6">(+) D</text>
<text x="229" y="166.9" font-size="40" text-anchor="start" font-weight="normal" stroke="#fff" stroke-width="0.6">(+) D</text>
</g>
<path d="M331 110.5H368M359 103.5L368.5 110.5L359 117.5" stroke="#000" stroke-width="2.2" fill="none"/>
<text x="414.5" y="2489.7" font-size="45" text-anchor="start" font-weight="normal" stroke="#fff" stroke-width="0.6">Days after KLH Injection</text>
</svg></body></html>
